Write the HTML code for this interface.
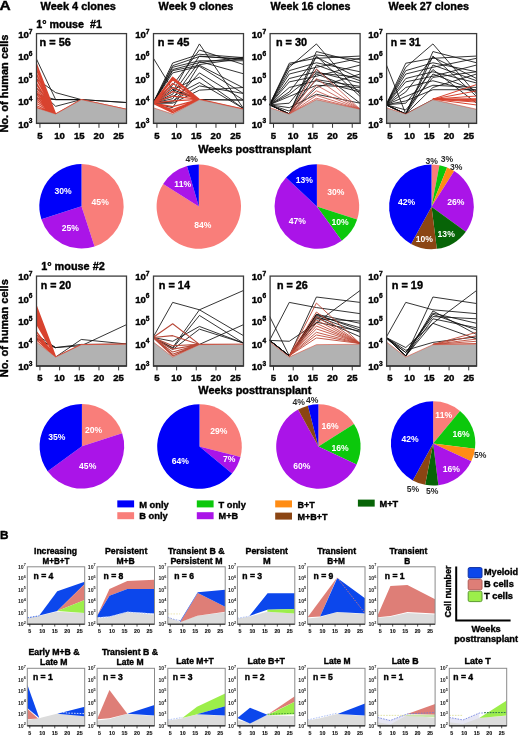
<!DOCTYPE html>
<html><head><meta charset="utf-8"><title>figure</title>
<style>html,body{margin:0;padding:0;background:#fff;}svg{display:block;filter:blur(0.4px);}</style>
</head><body>
<svg width="520" height="736" viewBox="0 0 520 736" font-family="'Liberation Sans', sans-serif" font-weight="bold">
<rect width="520" height="736" fill="#fff"/>
<text x="-0.6" y="9.5" font-size="13.2" textLength="11.2" lengthAdjust="spacingAndGlyphs" fill="#000" stroke="#000" stroke-width="0.38">A</text>
<text x="40.6" y="9.6" font-size="10.9" textLength="75.3" lengthAdjust="spacingAndGlyphs" fill="#000" stroke="#000" stroke-width="0.38">Week 4 clones</text>
<text x="158.6" y="9.6" font-size="10.9" textLength="74.8" lengthAdjust="spacingAndGlyphs" fill="#000" stroke="#000" stroke-width="0.38">Week 9 clones</text>
<text x="270.6" y="9.6" font-size="10.9" textLength="80" lengthAdjust="spacingAndGlyphs" fill="#000" stroke="#000" stroke-width="0.38">Week 16 clones</text>
<text x="388.6" y="9.6" font-size="10.9" textLength="80.4" lengthAdjust="spacingAndGlyphs" fill="#000" stroke="#000" stroke-width="0.38">Week 27 clones</text>
<text x="36.3" y="27.5" font-size="10.7" textLength="65.6" lengthAdjust="spacingAndGlyphs" fill="#000" stroke="#000" stroke-width="0.38">1° mouse  #1</text>
<text x="41.2" y="269.5" font-size="10.7" textLength="63.6" lengthAdjust="spacingAndGlyphs" fill="#000" stroke="#000" stroke-width="0.38">1° mouse #2</text>
<text transform="translate(8.2 83.6) rotate(-90)" font-size="10.9" stroke="#000" stroke-width="0.38" text-anchor="middle" textLength="98" lengthAdjust="spacingAndGlyphs">No. of human cells</text>
<clipPath id="ca00"><rect x="36" y="33.6" width="90.5" height="89.8"/></clipPath>
<g clip-path="url(#ca00)">
<path d="M36 58.07 L55.67 99.6 L81.25 99.6 L126.5 102.52M36 78.5 L55.67 92.64 L81.25 99.6 L126.5 102.52M36 87.48 L55.67 106.34 L81.25 99.6M36 94.22 L55.67 99.6 L81.25 99.6M36 98.71 L55.67 99.6 L81.25 99.6" fill="none" stroke="#111" stroke-width="0.85" stroke-linejoin="round"/>
<path d="M36 62.56 L55.67 113.97 L81.25 99.6 L126.5 109.26M36 63.91 L55.67 113.97 L81.25 99.6 L126.5 109.26M36 67.5 L55.67 113.97 L81.25 99.6 L126.5 109.26M36 68.85 L55.67 113.97 L81.25 99.6 L126.5 109.26M36 72.44 L55.67 113.97 L81.25 99.6 L126.5 109.26M36 73.79 L55.67 113.97 L81.25 99.6 L126.5 109.26M36 77.38 L55.67 113.97 L81.25 99.6 L126.5 109.26M36 78.72 L55.67 113.97 L81.25 99.6 L126.5 109.26M36 82.32 L55.67 113.97 L81.25 99.6 L126.5 109.26M36 83.66 L55.67 113.97 L81.25 99.6 L126.5 109.26M36 87.03 L55.67 113.97 L81.25 99.6 L126.5 109.26M36 89.73 L55.67 113.97 L81.25 99.6 L126.5 109.26M36 91.97 L55.67 113.97 L81.25 99.6 L126.5 109.26M36 94.22 L55.67 113.97 L81.25 99.6 L126.5 109.26M36 96.46 L55.67 113.97 L81.25 99.6 L126.5 109.26M36 98.71 L55.67 113.97 L81.25 99.6 L126.5 109.26M36 100.95 L55.67 113.97 L81.25 99.6 L126.5 109.26M36 103.2 L55.67 113.97 L81.25 99.6 L126.5 109.26M36 105.44 L55.67 113.97 L81.25 99.6 L126.5 109.26M36 107.24 L55.67 113.97 L81.25 99.6 L126.5 109.26" fill="none" stroke="#d8432f" stroke-width="1.1" stroke-linejoin="round"/>
<path d="M36 123.4 L36 107.69 L55.67 113.97 L81.25 99.6 L126.5 109.26 L126.5 123.4 Z" fill="#b2b2b2"/>
<path d="M36 107.69 L55.67 113.97 L81.25 99.6 L126.5 109.26" fill="none" stroke="#d8432f" stroke-width="0.7" opacity="0.8"/>
</g>
<rect x="36.5" y="33.6" width="90" height="89.8" fill="none" stroke="#3c3c3c" stroke-width="1.3"/>
<line x1="36" y1="123.4" x2="126.8" y2="123.4" stroke="#333" stroke-width="1.4"/>
<text x="39.6" y="46" font-size="10.6" textLength="31.2" lengthAdjust="spacingAndGlyphs" fill="#000" stroke="#000" stroke-width="0.38">n = 56</text>
<line x1="39.93" y1="123.4" x2="39.93" y2="127.8" stroke="#333" stroke-width="1"/>
<text x="39.93" y="138.8" font-size="9.6" text-anchor="middle" fill="#000" stroke="#000" stroke-width="0.38">5</text>
<line x1="59.61" y1="123.4" x2="59.61" y2="127.8" stroke="#333" stroke-width="1"/>
<text x="59.61" y="138.8" font-size="9.6" text-anchor="middle" fill="#000" stroke="#000" stroke-width="0.38">10</text>
<line x1="79.28" y1="123.4" x2="79.28" y2="127.8" stroke="#333" stroke-width="1"/>
<text x="79.28" y="138.8" font-size="9.6" text-anchor="middle" fill="#000" stroke="#000" stroke-width="0.38">15</text>
<line x1="98.96" y1="123.4" x2="98.96" y2="127.8" stroke="#333" stroke-width="1"/>
<text x="98.96" y="138.8" font-size="9.6" text-anchor="middle" fill="#000" stroke="#000" stroke-width="0.38">20</text>
<line x1="118.63" y1="123.4" x2="118.63" y2="127.8" stroke="#333" stroke-width="1"/>
<text x="118.63" y="138.8" font-size="9.6" text-anchor="middle" fill="#000" stroke="#000" stroke-width="0.38">25</text>
<text x="32.5" y="127.6" font-size="9.6" text-anchor="end" stroke="#000" stroke-width="0.38">10<tspan font-size="6.6" dy="-4.3">3</tspan></text>
<text x="32.5" y="105.15" font-size="9.6" text-anchor="end" stroke="#000" stroke-width="0.38">10<tspan font-size="6.6" dy="-4.3">4</tspan></text>
<text x="32.5" y="82.7" font-size="9.6" text-anchor="end" stroke="#000" stroke-width="0.38">10<tspan font-size="6.6" dy="-4.3">5</tspan></text>
<text x="32.5" y="60.25" font-size="9.6" text-anchor="end" stroke="#000" stroke-width="0.38">10<tspan font-size="6.6" dy="-4.3">6</tspan></text>
<text x="32.5" y="37.8" font-size="9.6" text-anchor="end" stroke="#000" stroke-width="0.38">10<tspan font-size="6.6" dy="-4.3">7</tspan></text>
<clipPath id="ca01"><rect x="153" y="33.6" width="90.5" height="89.8"/></clipPath>
<g clip-path="url(#ca01)">
<path d="M153 103.2 L172.67 63.01 L199.43 54.25 L243.5 57.62M153 103.2 L172.67 65.7 L199.43 56.5 L243.5 58.74M153 103.2 L172.67 67.28 L199.43 60.76 L243.5 60.76M153 103.2 L172.67 69.52 L199.43 62.56 L243.5 57.17M153 103.2 L172.67 70.64 L199.43 65.25 L243.5 87.93M153 103.2 L172.67 72.89 L199.43 66.38 L243.5 93.54M153 103.2 L172.67 91.97 L199.43 43.93 L243.5 108.58M153 103.2 L172.67 85.24 L199.43 49.99 L243.5 64.58M153 103.2 L172.67 94.22 L199.43 56.05 L243.5 59.64M153 103.2 L172.67 98.71 L199.43 61.44 L243.5 73.79M153 103.2 L172.67 102.07 L199.43 72.89 L243.5 100.05M153 103.2 L172.67 89.73 L199.43 77.15 L243.5 108.58M153 103.2 L172.67 96.46 L199.43 82.54 L243.5 108.58M153 103.2 L172.67 103.2 L199.43 90.17 L243.5 87.48M153 103.2 L172.67 100.95 L199.43 85.91 L243.5 93.54M153 103.2 L172.67 107.69 L199.43 64.58 L243.5 58.3M153 57.62 L172.67 89.73 L199.43 99.6 L243.5 100.05M153 103.2 L172.67 87.48 L199.43 99.6 L243.5 100.05" fill="none" stroke="#111" stroke-width="0.85" stroke-linejoin="round"/>
<path d="M153 103.2 L172.67 77.15 L199.43 99.38 L243.5 109.03M153 103.2 L172.67 78.5 L199.43 99.38 L243.5 109.03M153 103.2 L172.67 79.85 L199.43 99.38 L243.5 109.03M153 103.2 L172.67 83.44 L199.43 99.38 L243.5 109.03M153 103.2 L172.67 87.48 L199.43 99.38 L243.5 109.03M153 103.2 L172.67 91.52 L199.43 99.38 L243.5 109.03M153 103.2 L172.67 96.01 L199.43 99.38 L243.5 109.03M153 103.2 L172.67 100.95 L199.43 99.38 L243.5 109.03M153 103.2 L172.67 106.56 L199.43 99.38 L243.5 109.03M153 103.2 L172.67 109.48 L199.43 99.38 L243.5 109.03M153 103.2 L172.67 111.05 L199.43 99.38 L243.5 109.03M153 103.2 L172.67 112.62 L199.43 99.38 L243.5 109.03" fill="none" stroke="#d8432f" stroke-width="1.25" stroke-linejoin="round"/>
<path d="M153 123.4 L153 107.69 L172.67 113.97 L199.43 99.6 L243.5 109.26 L243.5 123.4 Z" fill="#b2b2b2"/>
<path d="M153 107.69 L172.67 113.97 L199.43 99.6 L243.5 109.26" fill="none" stroke="#d8432f" stroke-width="0.7" opacity="0.8"/>
</g>
<rect x="153.5" y="33.6" width="90" height="89.8" fill="none" stroke="#3c3c3c" stroke-width="1.3"/>
<line x1="153" y1="123.4" x2="243.8" y2="123.4" stroke="#333" stroke-width="1.4"/>
<text x="157.8" y="46" font-size="10.6" textLength="31.5" lengthAdjust="spacingAndGlyphs" fill="#000" stroke="#000" stroke-width="0.38">n = 45</text>
<line x1="156.93" y1="123.4" x2="156.93" y2="127.8" stroke="#333" stroke-width="1"/>
<text x="156.93" y="138.8" font-size="9.6" text-anchor="middle" fill="#000" stroke="#000" stroke-width="0.38">5</text>
<line x1="176.61" y1="123.4" x2="176.61" y2="127.8" stroke="#333" stroke-width="1"/>
<text x="176.61" y="138.8" font-size="9.6" text-anchor="middle" fill="#000" stroke="#000" stroke-width="0.38">10</text>
<line x1="196.28" y1="123.4" x2="196.28" y2="127.8" stroke="#333" stroke-width="1"/>
<text x="196.28" y="138.8" font-size="9.6" text-anchor="middle" fill="#000" stroke="#000" stroke-width="0.38">15</text>
<line x1="215.96" y1="123.4" x2="215.96" y2="127.8" stroke="#333" stroke-width="1"/>
<text x="215.96" y="138.8" font-size="9.6" text-anchor="middle" fill="#000" stroke="#000" stroke-width="0.38">20</text>
<line x1="235.63" y1="123.4" x2="235.63" y2="127.8" stroke="#333" stroke-width="1"/>
<text x="235.63" y="138.8" font-size="9.6" text-anchor="middle" fill="#000" stroke="#000" stroke-width="0.38">25</text>
<text x="149.5" y="127.6" font-size="9.6" text-anchor="end" stroke="#000" stroke-width="0.38">10<tspan font-size="6.6" dy="-4.3">3</tspan></text>
<text x="149.5" y="105.15" font-size="9.6" text-anchor="end" stroke="#000" stroke-width="0.38">10<tspan font-size="6.6" dy="-4.3">4</tspan></text>
<text x="149.5" y="82.7" font-size="9.6" text-anchor="end" stroke="#000" stroke-width="0.38">10<tspan font-size="6.6" dy="-4.3">5</tspan></text>
<text x="149.5" y="60.25" font-size="9.6" text-anchor="end" stroke="#000" stroke-width="0.38">10<tspan font-size="6.6" dy="-4.3">6</tspan></text>
<text x="149.5" y="37.8" font-size="9.6" text-anchor="end" stroke="#000" stroke-width="0.38">10<tspan font-size="6.6" dy="-4.3">7</tspan></text>
<clipPath id="ca02"><rect x="269.6" y="33.6" width="90.5" height="89.8"/></clipPath>
<g clip-path="url(#ca02)">
<path d="M269.6 104.77 L289.27 63.23 L316.42 58.3 L360.1 56.05M269.6 104.77 L289.27 67.28 L316.42 43.93 L360.1 94.22M269.6 104.77 L289.27 70.64 L316.42 62.78 L360.1 71.77M269.6 104.77 L289.27 74.01 L316.42 67.28 L360.1 58.3M269.6 104.77 L289.27 78.5 L316.42 71.77 L360.1 82.99M269.6 104.77 L289.27 81.87 L316.42 76.26 L360.1 65.03M269.6 104.77 L289.27 87.48 L316.42 80.75 L360.1 91.97M269.6 104.77 L289.27 91.97 L316.42 57.17 L360.1 78.5M269.6 104.77 L289.27 96.46 L316.42 85.24 L360.1 87.48M269.6 104.77 L289.27 103.2 L316.42 69.52 L360.1 103.2M269.6 104.77 L289.27 113.97 L316.42 51.56 L360.1 62.78M269.6 104.77 L289.27 113.97 L316.42 56.05 L360.1 96.46M269.6 104.77 L289.27 113.97 L316.42 65.03 L360.1 80.75M269.6 104.77 L289.27 113.97 L316.42 74.01 L360.1 90.85M269.6 104.77 L289.27 113.97 L316.42 87.48 L360.1 74.01M269.6 104.77 L289.27 107.69 L316.42 94.22 L360.1 103.2M269.6 104.77 L289.27 65.03 L316.42 54.93 L360.1 59.42M269.6 104.77 L289.27 94.22 L316.42 72.89 L360.1 77.38M269.6 104.77 L289.27 111.05 L316.42 79.62 L360.1 86.36" fill="none" stroke="#111" stroke-width="0.85" stroke-linejoin="round"/>
<path d="M289.27 113.97 L316.42 68.85 L360.1 109.26M289.27 113.97 L316.42 78.5 L360.1 109.26M289.27 113.97 L316.42 85.24 L360.1 109.26M289.27 113.97 L316.42 90.85 L360.1 109.26M289.27 113.97 L316.42 95.34 L360.1 109.26M289.27 113.97 L316.42 98.26 L360.1 109.26" fill="none" stroke="#c85a50" stroke-width="0.85" stroke-linejoin="round"/>
<path d="M269.6 123.4 L269.6 107.69 L289.27 113.97 L316.42 99.6 L360.1 109.26 L360.1 123.4 Z" fill="#b2b2b2"/>
<path d="M269.6 107.69 L289.27 113.97 L316.42 99.6 L360.1 109.26" fill="none" stroke="#d8432f" stroke-width="0.7" opacity="0.8"/>
</g>
<rect x="270.1" y="33.6" width="90" height="89.8" fill="none" stroke="#3c3c3c" stroke-width="1.3"/>
<line x1="269.6" y1="123.4" x2="360.4" y2="123.4" stroke="#333" stroke-width="1.4"/>
<text x="276" y="46" font-size="10.6" textLength="31" lengthAdjust="spacingAndGlyphs" fill="#000" stroke="#000" stroke-width="0.38">n = 30</text>
<line x1="273.53" y1="123.4" x2="273.53" y2="127.8" stroke="#333" stroke-width="1"/>
<text x="273.53" y="138.8" font-size="9.6" text-anchor="middle" fill="#000" stroke="#000" stroke-width="0.38">5</text>
<line x1="293.21" y1="123.4" x2="293.21" y2="127.8" stroke="#333" stroke-width="1"/>
<text x="293.21" y="138.8" font-size="9.6" text-anchor="middle" fill="#000" stroke="#000" stroke-width="0.38">10</text>
<line x1="312.88" y1="123.4" x2="312.88" y2="127.8" stroke="#333" stroke-width="1"/>
<text x="312.88" y="138.8" font-size="9.6" text-anchor="middle" fill="#000" stroke="#000" stroke-width="0.38">15</text>
<line x1="332.56" y1="123.4" x2="332.56" y2="127.8" stroke="#333" stroke-width="1"/>
<text x="332.56" y="138.8" font-size="9.6" text-anchor="middle" fill="#000" stroke="#000" stroke-width="0.38">20</text>
<line x1="352.23" y1="123.4" x2="352.23" y2="127.8" stroke="#333" stroke-width="1"/>
<text x="352.23" y="138.8" font-size="9.6" text-anchor="middle" fill="#000" stroke="#000" stroke-width="0.38">25</text>
<text x="266.1" y="127.6" font-size="9.6" text-anchor="end" stroke="#000" stroke-width="0.38">10<tspan font-size="6.6" dy="-4.3">3</tspan></text>
<text x="266.1" y="105.15" font-size="9.6" text-anchor="end" stroke="#000" stroke-width="0.38">10<tspan font-size="6.6" dy="-4.3">4</tspan></text>
<text x="266.1" y="82.7" font-size="9.6" text-anchor="end" stroke="#000" stroke-width="0.38">10<tspan font-size="6.6" dy="-4.3">5</tspan></text>
<text x="266.1" y="60.25" font-size="9.6" text-anchor="end" stroke="#000" stroke-width="0.38">10<tspan font-size="6.6" dy="-4.3">6</tspan></text>
<text x="266.1" y="37.8" font-size="9.6" text-anchor="end" stroke="#000" stroke-width="0.38">10<tspan font-size="6.6" dy="-4.3">7</tspan></text>
<clipPath id="ca03"><rect x="386.1" y="33.6" width="90.5" height="89.8"/></clipPath>
<g clip-path="url(#ca03)">
<path d="M386.1 64.13 L405.77 113.97 L432.92 99.6M386.1 104.77 L405.77 63.23 L432.92 58.3 L476.6 56.05M386.1 104.77 L405.77 67.28 L432.92 43.93 L476.6 94.22M386.1 104.77 L405.77 70.64 L432.92 62.78 L476.6 71.77M386.1 104.77 L405.77 74.01 L432.92 67.28 L476.6 58.3M386.1 104.77 L405.77 78.5 L432.92 71.77 L476.6 82.99M386.1 104.77 L405.77 81.87 L432.92 76.26 L476.6 65.03M386.1 104.77 L405.77 87.48 L432.92 80.75 L476.6 91.97M386.1 104.77 L405.77 91.97 L432.92 57.17 L476.6 78.5M386.1 104.77 L405.77 96.46 L432.92 85.24 L476.6 87.48M386.1 104.77 L405.77 103.2 L432.92 69.52 L476.6 103.2M386.1 104.77 L405.77 113.97 L432.92 51.56 L476.6 62.78M386.1 104.77 L405.77 113.97 L432.92 56.05 L476.6 96.46M386.1 104.77 L405.77 113.97 L432.92 65.03 L476.6 80.75M386.1 104.77 L405.77 113.97 L432.92 74.01 L476.6 90.85M386.1 104.77 L405.77 113.97 L432.92 87.48 L476.6 74.01M386.1 104.77 L405.77 100.95 L432.92 89.73 L476.6 89.73M386.1 104.77 L405.77 109.93 L432.92 77.38 L476.6 71.77" fill="none" stroke="#111" stroke-width="0.85" stroke-linejoin="round"/>
<path d="M432.92 99.15 L476.6 84.56M432.92 99.15 L476.6 90.85M432.92 99.15 L476.6 96.01M432.92 99.15 L476.6 98.71M432.92 99.15 L476.6 99.6M432.92 99.15 L476.6 100.28M432.92 99.15 L476.6 100.95M432.92 99.15 L476.6 102.07M432.92 99.15 L476.6 104.99" fill="none" stroke="#d8432f" stroke-width="1.0" stroke-linejoin="round"/>
<path d="M386.1 123.4 L386.1 107.69 L405.77 113.97 L432.92 99.6 L476.6 109.26 L476.6 123.4 Z" fill="#b2b2b2"/>
<path d="M386.1 107.69 L405.77 113.97 L432.92 99.6 L476.6 109.26" fill="none" stroke="#d8432f" stroke-width="0.7" opacity="0.8"/>
</g>
<rect x="386.6" y="33.6" width="90" height="89.8" fill="none" stroke="#3c3c3c" stroke-width="1.3"/>
<line x1="386.1" y1="123.4" x2="476.9" y2="123.4" stroke="#333" stroke-width="1.4"/>
<text x="390.8" y="46" font-size="10.6" textLength="29.8" lengthAdjust="spacingAndGlyphs" fill="#000" stroke="#000" stroke-width="0.38">n = 31</text>
<line x1="390.03" y1="123.4" x2="390.03" y2="127.8" stroke="#333" stroke-width="1"/>
<text x="390.03" y="138.8" font-size="9.6" text-anchor="middle" fill="#000" stroke="#000" stroke-width="0.38">5</text>
<line x1="409.71" y1="123.4" x2="409.71" y2="127.8" stroke="#333" stroke-width="1"/>
<text x="409.71" y="138.8" font-size="9.6" text-anchor="middle" fill="#000" stroke="#000" stroke-width="0.38">10</text>
<line x1="429.38" y1="123.4" x2="429.38" y2="127.8" stroke="#333" stroke-width="1"/>
<text x="429.38" y="138.8" font-size="9.6" text-anchor="middle" fill="#000" stroke="#000" stroke-width="0.38">15</text>
<line x1="449.06" y1="123.4" x2="449.06" y2="127.8" stroke="#333" stroke-width="1"/>
<text x="449.06" y="138.8" font-size="9.6" text-anchor="middle" fill="#000" stroke="#000" stroke-width="0.38">20</text>
<line x1="468.73" y1="123.4" x2="468.73" y2="127.8" stroke="#333" stroke-width="1"/>
<text x="468.73" y="138.8" font-size="9.6" text-anchor="middle" fill="#000" stroke="#000" stroke-width="0.38">25</text>
<text x="382.6" y="127.6" font-size="9.6" text-anchor="end" stroke="#000" stroke-width="0.38">10<tspan font-size="6.6" dy="-4.3">3</tspan></text>
<text x="382.6" y="105.15" font-size="9.6" text-anchor="end" stroke="#000" stroke-width="0.38">10<tspan font-size="6.6" dy="-4.3">4</tspan></text>
<text x="382.6" y="82.7" font-size="9.6" text-anchor="end" stroke="#000" stroke-width="0.38">10<tspan font-size="6.6" dy="-4.3">5</tspan></text>
<text x="382.6" y="60.25" font-size="9.6" text-anchor="end" stroke="#000" stroke-width="0.38">10<tspan font-size="6.6" dy="-4.3">6</tspan></text>
<text x="382.6" y="37.8" font-size="9.6" text-anchor="end" stroke="#000" stroke-width="0.38">10<tspan font-size="6.6" dy="-4.3">7</tspan></text>
<text x="198.2" y="152.9" font-size="10.8" textLength="113" lengthAdjust="spacingAndGlyphs" fill="#000" stroke="#000" stroke-width="0.38">Weeks posttransplant</text>
<text transform="translate(8.2 328.2) rotate(-90)" font-size="10.9" stroke="#000" stroke-width="0.38" text-anchor="middle" textLength="98" lengthAdjust="spacingAndGlyphs">No. of human cells</text>
<clipPath id="ca10"><rect x="36" y="276.1" width="90.5" height="89.9"/></clipPath>
<g clip-path="url(#ca10)">
<path d="M36 339.03 L55.67 347.57 L81.25 345.77 L126.5 324.65M36 336.78 L55.67 357.01 L81.25 339.48 L126.5 343.97M36 334.53 L55.67 347.57 L81.25 344.42 L126.5 344.2M36 337.91 L55.67 348.02" fill="none" stroke="#111" stroke-width="0.85" stroke-linejoin="round"/>
<path d="M36 304.87 L55.67 357.01 L81.25 344.65 L126.5 344.2M36 307.12 L55.67 357.01 L81.25 344.65 L126.5 344.2M36 309.36 L55.67 357.01 L81.25 344.65 L126.5 344.2M36 311.61 L55.67 357.01 L81.25 344.65 L126.5 344.2M36 313.86 L55.67 357.01 L81.25 344.65 L126.5 344.2M36 316.11 L55.67 357.01 L81.25 344.65 L126.5 344.2M36 318.35 L55.67 357.01 L81.25 344.65 L126.5 344.2M36 320.6 L55.67 357.01 L81.25 344.65 L126.5 344.2M36 322.85 L55.67 357.01 L81.25 344.65 L126.5 344.2M36 331.16 L55.67 357.01 L81.25 344.65 L126.5 344.2M36 334.09 L55.67 357.01 L81.25 344.65 L126.5 344.2M36 336.78 L55.67 357.01 L81.25 344.65 L126.5 344.2M36 339.48 L55.67 357.01 L81.25 344.65 L126.5 344.2" fill="none" stroke="#d8432f" stroke-width="1.3" stroke-linejoin="round"/>
<path d="M36 366 L36 341.73 L55.67 357.01 L81.25 344.65 L126.5 344.2 L126.5 366 Z" fill="#b2b2b2"/>
<path d="M36 341.73 L55.67 357.01 L81.25 344.65 L126.5 344.2" fill="none" stroke="#d8432f" stroke-width="0.7" opacity="0.8"/>
</g>
<rect x="36.5" y="276.1" width="90" height="89.9" fill="none" stroke="#3c3c3c" stroke-width="1.3"/>
<line x1="36" y1="366" x2="126.8" y2="366" stroke="#333" stroke-width="1.4"/>
<text x="40.8" y="288.5" font-size="10.6" textLength="30.3" lengthAdjust="spacingAndGlyphs" fill="#000" stroke="#000" stroke-width="0.38">n = 20</text>
<line x1="39.93" y1="366" x2="39.93" y2="370.4" stroke="#333" stroke-width="1"/>
<text x="39.93" y="380.8" font-size="9.6" text-anchor="middle" fill="#000" stroke="#000" stroke-width="0.38">5</text>
<line x1="59.61" y1="366" x2="59.61" y2="370.4" stroke="#333" stroke-width="1"/>
<text x="59.61" y="380.8" font-size="9.6" text-anchor="middle" fill="#000" stroke="#000" stroke-width="0.38">10</text>
<line x1="79.28" y1="366" x2="79.28" y2="370.4" stroke="#333" stroke-width="1"/>
<text x="79.28" y="380.8" font-size="9.6" text-anchor="middle" fill="#000" stroke="#000" stroke-width="0.38">15</text>
<line x1="98.96" y1="366" x2="98.96" y2="370.4" stroke="#333" stroke-width="1"/>
<text x="98.96" y="380.8" font-size="9.6" text-anchor="middle" fill="#000" stroke="#000" stroke-width="0.38">20</text>
<line x1="118.63" y1="366" x2="118.63" y2="370.4" stroke="#333" stroke-width="1"/>
<text x="118.63" y="380.8" font-size="9.6" text-anchor="middle" fill="#000" stroke="#000" stroke-width="0.38">25</text>
<text x="32.5" y="370.2" font-size="9.6" text-anchor="end" stroke="#000" stroke-width="0.38">10<tspan font-size="6.6" dy="-4.3">3</tspan></text>
<text x="32.5" y="347.72" font-size="9.6" text-anchor="end" stroke="#000" stroke-width="0.38">10<tspan font-size="6.6" dy="-4.3">4</tspan></text>
<text x="32.5" y="325.25" font-size="9.6" text-anchor="end" stroke="#000" stroke-width="0.38">10<tspan font-size="6.6" dy="-4.3">5</tspan></text>
<text x="32.5" y="302.78" font-size="9.6" text-anchor="end" stroke="#000" stroke-width="0.38">10<tspan font-size="6.6" dy="-4.3">6</tspan></text>
<text x="32.5" y="280.3" font-size="9.6" text-anchor="end" stroke="#000" stroke-width="0.38">10<tspan font-size="6.6" dy="-4.3">7</tspan></text>
<clipPath id="ca11"><rect x="153" y="276.1" width="90.5" height="89.9"/></clipPath>
<g clip-path="url(#ca11)">
<path d="M153 337.46 L172.67 302.4 L199.43 309.81 L243.5 335.66M153 337.46 L172.67 347.57 L199.43 309.81 L243.5 290.48M153 337.46 L172.67 348.47 L199.43 315.43 L243.5 343.08M153 337.46 L172.67 341.28 L199.43 326.44 L243.5 343.08M153 337.46 L172.67 349.59 L199.43 329.14 L243.5 343.08M199.43 344.42 L243.5 324.65" fill="none" stroke="#111" stroke-width="0.85" stroke-linejoin="round"/>
<path d="M153 337.46 L172.67 323.75 L199.43 344.42 L243.5 344.2M153 337.46 L172.67 335.66 L199.43 344.42 L243.5 344.2M153 337.46 L172.67 345.77 L199.43 344.42 L243.5 344.2M153 337.46 L172.67 349.14 L199.43 344.42 L243.5 344.2M153 337.46 L172.67 352.07 L199.43 344.42 L243.5 344.2M153 337.46 L172.67 354.31 L199.43 344.42 L243.5 344.2M153 337.46 L172.67 355.89 L199.43 344.42 L243.5 344.2" fill="none" stroke="#b84a3a" stroke-width="1.1" stroke-linejoin="round"/>
<path d="M153 366 L153 341.73 L172.67 357.01 L199.43 344.65 L243.5 344.2 L243.5 366 Z" fill="#b2b2b2"/>
<path d="M153 341.73 L172.67 357.01 L199.43 344.65 L243.5 344.2" fill="none" stroke="#d8432f" stroke-width="0.7" opacity="0.8"/>
</g>
<rect x="153.5" y="276.1" width="90" height="89.9" fill="none" stroke="#3c3c3c" stroke-width="1.3"/>
<line x1="153" y1="366" x2="243.8" y2="366" stroke="#333" stroke-width="1.4"/>
<text x="158.8" y="288.5" font-size="10.6" textLength="31.2" lengthAdjust="spacingAndGlyphs" fill="#000" stroke="#000" stroke-width="0.38">n = 14</text>
<line x1="156.93" y1="366" x2="156.93" y2="370.4" stroke="#333" stroke-width="1"/>
<text x="156.93" y="380.8" font-size="9.6" text-anchor="middle" fill="#000" stroke="#000" stroke-width="0.38">5</text>
<line x1="176.61" y1="366" x2="176.61" y2="370.4" stroke="#333" stroke-width="1"/>
<text x="176.61" y="380.8" font-size="9.6" text-anchor="middle" fill="#000" stroke="#000" stroke-width="0.38">10</text>
<line x1="196.28" y1="366" x2="196.28" y2="370.4" stroke="#333" stroke-width="1"/>
<text x="196.28" y="380.8" font-size="9.6" text-anchor="middle" fill="#000" stroke="#000" stroke-width="0.38">15</text>
<line x1="215.96" y1="366" x2="215.96" y2="370.4" stroke="#333" stroke-width="1"/>
<text x="215.96" y="380.8" font-size="9.6" text-anchor="middle" fill="#000" stroke="#000" stroke-width="0.38">20</text>
<line x1="235.63" y1="366" x2="235.63" y2="370.4" stroke="#333" stroke-width="1"/>
<text x="235.63" y="380.8" font-size="9.6" text-anchor="middle" fill="#000" stroke="#000" stroke-width="0.38">25</text>
<text x="149.5" y="370.2" font-size="9.6" text-anchor="end" stroke="#000" stroke-width="0.38">10<tspan font-size="6.6" dy="-4.3">3</tspan></text>
<text x="149.5" y="347.72" font-size="9.6" text-anchor="end" stroke="#000" stroke-width="0.38">10<tspan font-size="6.6" dy="-4.3">4</tspan></text>
<text x="149.5" y="325.25" font-size="9.6" text-anchor="end" stroke="#000" stroke-width="0.38">10<tspan font-size="6.6" dy="-4.3">5</tspan></text>
<text x="149.5" y="302.78" font-size="9.6" text-anchor="end" stroke="#000" stroke-width="0.38">10<tspan font-size="6.6" dy="-4.3">6</tspan></text>
<text x="149.5" y="280.3" font-size="9.6" text-anchor="end" stroke="#000" stroke-width="0.38">10<tspan font-size="6.6" dy="-4.3">7</tspan></text>
<clipPath id="ca12"><rect x="269.6" y="276.1" width="90.5" height="89.9"/></clipPath>
<g clip-path="url(#ca12)">
<path d="M269.6 316.33 L289.27 355.89 L316.42 314.31 L360.1 330.04M269.6 340.38 L289.27 302.4 L316.42 307.56 L360.1 313.63M269.6 340.38 L289.27 341.28 L316.42 322.85 L360.1 290.48M269.6 340.38 L289.27 355.89 L316.42 297 L360.1 302.4M269.6 340.38 L289.27 355.89 L316.42 314.31 L360.1 323.3M269.6 340.38 L289.27 355.89 L316.42 316.56 L360.1 332.29M269.6 340.38 L289.27 355.89 L316.42 318.8 L360.1 321.05M269.6 340.38 L289.27 355.89 L316.42 317.68 L360.1 336.78M269.6 340.38 L289.27 355.89 L316.42 315.43 L360.1 327.79M269.6 340.38 L289.27 355.89 L316.42 322.17 L360.1 331.16" fill="none" stroke="#111" stroke-width="0.85" stroke-linejoin="round"/>
<path d="M289.27 355.89 L316.42 303.07 L360.1 343.52M289.27 355.89 L316.42 312.06 L360.1 343.52M289.27 355.89 L316.42 316.56 L360.1 343.52M289.27 355.89 L316.42 319.93 L360.1 343.52M289.27 355.89 L316.42 323.3 L360.1 343.52M289.27 355.89 L316.42 325.99 L360.1 343.52M289.27 355.89 L316.42 328.92 L360.1 343.52M289.27 355.89 L316.42 332.29 L360.1 343.52M289.27 355.89 L316.42 334.98 L360.1 343.52M289.27 355.89 L316.42 337.91 L360.1 343.52" fill="none" stroke="#c04a38" stroke-width="0.9" stroke-linejoin="round"/>
<path d="M269.6 366 L269.6 341.73 L289.27 357.01 L316.42 344.65 L360.1 344.2 L360.1 366 Z" fill="#b2b2b2"/>
<path d="M269.6 341.73 L289.27 357.01 L316.42 344.65 L360.1 344.2" fill="none" stroke="#d8432f" stroke-width="0.7" opacity="0.8"/>
</g>
<rect x="270.1" y="276.1" width="90" height="89.9" fill="none" stroke="#3c3c3c" stroke-width="1.3"/>
<line x1="269.6" y1="366" x2="360.4" y2="366" stroke="#333" stroke-width="1.4"/>
<text x="277" y="288.5" font-size="10.6" textLength="30.7" lengthAdjust="spacingAndGlyphs" fill="#000" stroke="#000" stroke-width="0.38">n = 26</text>
<line x1="273.53" y1="366" x2="273.53" y2="370.4" stroke="#333" stroke-width="1"/>
<text x="273.53" y="380.8" font-size="9.6" text-anchor="middle" fill="#000" stroke="#000" stroke-width="0.38">5</text>
<line x1="293.21" y1="366" x2="293.21" y2="370.4" stroke="#333" stroke-width="1"/>
<text x="293.21" y="380.8" font-size="9.6" text-anchor="middle" fill="#000" stroke="#000" stroke-width="0.38">10</text>
<line x1="312.88" y1="366" x2="312.88" y2="370.4" stroke="#333" stroke-width="1"/>
<text x="312.88" y="380.8" font-size="9.6" text-anchor="middle" fill="#000" stroke="#000" stroke-width="0.38">15</text>
<line x1="332.56" y1="366" x2="332.56" y2="370.4" stroke="#333" stroke-width="1"/>
<text x="332.56" y="380.8" font-size="9.6" text-anchor="middle" fill="#000" stroke="#000" stroke-width="0.38">20</text>
<line x1="352.23" y1="366" x2="352.23" y2="370.4" stroke="#333" stroke-width="1"/>
<text x="352.23" y="380.8" font-size="9.6" text-anchor="middle" fill="#000" stroke="#000" stroke-width="0.38">25</text>
<text x="266.1" y="370.2" font-size="9.6" text-anchor="end" stroke="#000" stroke-width="0.38">10<tspan font-size="6.6" dy="-4.3">3</tspan></text>
<text x="266.1" y="347.72" font-size="9.6" text-anchor="end" stroke="#000" stroke-width="0.38">10<tspan font-size="6.6" dy="-4.3">4</tspan></text>
<text x="266.1" y="325.25" font-size="9.6" text-anchor="end" stroke="#000" stroke-width="0.38">10<tspan font-size="6.6" dy="-4.3">5</tspan></text>
<text x="266.1" y="302.78" font-size="9.6" text-anchor="end" stroke="#000" stroke-width="0.38">10<tspan font-size="6.6" dy="-4.3">6</tspan></text>
<text x="266.1" y="280.3" font-size="9.6" text-anchor="end" stroke="#000" stroke-width="0.38">10<tspan font-size="6.6" dy="-4.3">7</tspan></text>
<clipPath id="ca13"><rect x="386.1" y="276.1" width="90.5" height="89.9"/></clipPath>
<g clip-path="url(#ca13)">
<path d="M386.1 337.46 L405.77 302.4 L432.92 309.81 L476.6 313.63M386.1 337.46 L405.77 347.57 L432.92 323.3 L476.6 290.48M386.1 337.46 L405.77 355.89 L432.92 297 L476.6 303.52M386.1 337.46 L405.77 352.51 L432.92 314.31 L476.6 330.04M386.1 337.46 L405.77 352.51 L432.92 316.56 L476.6 318.8M386.1 337.46 L405.77 355.89 L432.92 318.8 L476.6 327.79M386.1 337.46 L405.77 355.89 L432.92 323.3 L476.6 339.03M386.1 337.46 L405.77 355.89 L432.92 310.94 L476.6 334.53M386.1 337.46 L405.77 355.89 L432.92 313.18 L476.6 323.3M386.1 337.46 L405.77 350.27 L432.92 342.4 L476.6 336.78" fill="none" stroke="#111" stroke-width="0.85" stroke-linejoin="round"/>
<path d="M432.92 344.42 L476.6 332.29M432.92 344.42 L476.6 335.66M432.92 344.42 L476.6 339.03M432.92 344.42 L476.6 341.28M432.92 344.42 L476.6 343.52" fill="none" stroke="#c04a38" stroke-width="0.9" stroke-linejoin="round"/>
<path d="M386.1 366 L386.1 341.73 L405.77 357.01 L432.92 344.65 L476.6 344.2 L476.6 366 Z" fill="#b2b2b2"/>
<path d="M386.1 341.73 L405.77 357.01 L432.92 344.65 L476.6 344.2" fill="none" stroke="#d8432f" stroke-width="0.7" opacity="0.8"/>
</g>
<rect x="386.6" y="276.1" width="90" height="89.9" fill="none" stroke="#3c3c3c" stroke-width="1.3"/>
<line x1="386.1" y1="366" x2="476.9" y2="366" stroke="#333" stroke-width="1.4"/>
<text x="391.8" y="288.5" font-size="10.6" textLength="31.2" lengthAdjust="spacingAndGlyphs" fill="#000" stroke="#000" stroke-width="0.38">n = 19</text>
<line x1="390.03" y1="366" x2="390.03" y2="370.4" stroke="#333" stroke-width="1"/>
<text x="390.03" y="380.8" font-size="9.6" text-anchor="middle" fill="#000" stroke="#000" stroke-width="0.38">5</text>
<line x1="409.71" y1="366" x2="409.71" y2="370.4" stroke="#333" stroke-width="1"/>
<text x="409.71" y="380.8" font-size="9.6" text-anchor="middle" fill="#000" stroke="#000" stroke-width="0.38">10</text>
<line x1="429.38" y1="366" x2="429.38" y2="370.4" stroke="#333" stroke-width="1"/>
<text x="429.38" y="380.8" font-size="9.6" text-anchor="middle" fill="#000" stroke="#000" stroke-width="0.38">15</text>
<line x1="449.06" y1="366" x2="449.06" y2="370.4" stroke="#333" stroke-width="1"/>
<text x="449.06" y="380.8" font-size="9.6" text-anchor="middle" fill="#000" stroke="#000" stroke-width="0.38">20</text>
<line x1="468.73" y1="366" x2="468.73" y2="370.4" stroke="#333" stroke-width="1"/>
<text x="468.73" y="380.8" font-size="9.6" text-anchor="middle" fill="#000" stroke="#000" stroke-width="0.38">25</text>
<text x="382.6" y="370.2" font-size="9.6" text-anchor="end" stroke="#000" stroke-width="0.38">10<tspan font-size="6.6" dy="-4.3">3</tspan></text>
<text x="382.6" y="347.72" font-size="9.6" text-anchor="end" stroke="#000" stroke-width="0.38">10<tspan font-size="6.6" dy="-4.3">4</tspan></text>
<text x="382.6" y="325.25" font-size="9.6" text-anchor="end" stroke="#000" stroke-width="0.38">10<tspan font-size="6.6" dy="-4.3">5</tspan></text>
<text x="382.6" y="302.78" font-size="9.6" text-anchor="end" stroke="#000" stroke-width="0.38">10<tspan font-size="6.6" dy="-4.3">6</tspan></text>
<text x="382.6" y="280.3" font-size="9.6" text-anchor="end" stroke="#000" stroke-width="0.38">10<tspan font-size="6.6" dy="-4.3">7</tspan></text>
<text x="198.3" y="393.5" font-size="10.8" textLength="113" lengthAdjust="spacingAndGlyphs" fill="#000" stroke="#000" stroke-width="0.38">Weeks posttransplant</text>
<path d="M81.5 206.3 L81.5 164.1 A42.2 42.2 0 0 1 94.54 246.43 Z" fill="#f97e7a"/>
<path d="M81.5 206.3 L94.54 246.43 A42.2 42.2 0 0 1 41.37 219.34 Z" fill="#aa14e8"/>
<path d="M81.5 206.3 L41.37 219.34 A42.2 42.2 0 0 1 81.5 164.1 Z" fill="#0000fa"/>
<text x="63" y="193.7" font-size="8.6" text-anchor="middle" fill="#fff">30%</text>
<text x="100.2" y="205" font-size="8.6" text-anchor="middle" fill="#fff">45%</text>
<text x="70.4" y="231" font-size="8.6" text-anchor="middle" fill="#fff">25%</text>
<path d="M198.8 206.6 L198.8 164.4 A42.2 42.2 0 1 1 163.17 183.99 Z" fill="#f97e7a"/>
<path d="M198.8 206.6 L163.17 183.99 A42.2 42.2 0 0 1 187.03 166.08 Z" fill="#aa14e8"/>
<path d="M198.8 206.6 L187.03 166.08 A42.2 42.2 0 0 1 198.8 164.4 Z" fill="#0000fa"/>
<text x="191.8" y="161.6" font-size="8.6" text-anchor="middle" fill="#2a2a2a">4%</text>
<text x="182.7" y="186.6" font-size="8.6" text-anchor="middle" fill="#fff">11%</text>
<text x="202.9" y="227.9" font-size="8.6" text-anchor="middle" fill="#fff">84%</text>
<path d="M316.9 206.5 L316.9 164.2 A42.3 42.3 0 0 1 357.13 219.57 Z" fill="#f97e7a"/>
<path d="M316.9 206.5 L357.13 219.57 A42.3 42.3 0 0 1 341.76 240.72 Z" fill="#0cc80c"/>
<path d="M316.9 206.5 L341.76 240.72 A42.3 42.3 0 0 1 286.06 177.54 Z" fill="#aa14e8"/>
<path d="M316.9 206.5 L286.06 177.54 A42.3 42.3 0 0 1 316.9 164.2 Z" fill="#0000fa"/>
<text x="304.4" y="182.7" font-size="8.6" text-anchor="middle" fill="#fff">13%</text>
<text x="335.8" y="194.8" font-size="8.6" text-anchor="middle" fill="#fff">30%</text>
<text x="340" y="225" font-size="8.6" text-anchor="middle" fill="#fff">10%</text>
<text x="297.3" y="224.1" font-size="8.6" text-anchor="middle" fill="#fff">47%</text>
<path d="M431.5 206.8 L431.5 164.4 A42.4 42.4 0 0 1 439.44 165.15 Z" fill="#f97e7a"/>
<path d="M431.5 206.8 L439.44 165.15 A42.4 42.4 0 0 1 447.11 167.38 Z" fill="#0cc80c"/>
<path d="M431.5 206.8 L447.11 167.38 A42.4 42.4 0 0 1 454.22 171 Z" fill="#ff8c14"/>
<path d="M431.5 206.8 L454.22 171 A42.4 42.4 0 0 1 465.8 231.72 Z" fill="#aa14e8"/>
<path d="M431.5 206.8 L465.8 231.72 A42.4 42.4 0 0 1 436.81 248.87 Z" fill="#076407"/>
<path d="M431.5 206.8 L436.81 248.87 A42.4 42.4 0 0 1 411.07 243.96 Z" fill="#8b4513"/>
<path d="M431.5 206.8 L411.07 243.96 A42.4 42.4 0 0 1 431.5 164.4 Z" fill="#0000fa"/>
<text x="431.6" y="163.5" font-size="8.6" text-anchor="middle" fill="#2a2a2a">3%</text>
<text x="447" y="161.7" font-size="8.6" text-anchor="middle" fill="#2a2a2a">3%</text>
<text x="456.2" y="170.2" font-size="8.6" text-anchor="middle" fill="#2a2a2a">3%</text>
<text x="406.5" y="204.8" font-size="8.6" text-anchor="middle" fill="#fff">42%</text>
<text x="455.8" y="205.4" font-size="8.6" text-anchor="middle" fill="#fff">26%</text>
<text x="446.2" y="236.6" font-size="8.6" text-anchor="middle" fill="#fff">13%</text>
<text x="424.4" y="241.9" font-size="8.6" text-anchor="middle" fill="#fff">10%</text>
<path d="M81.9 446.3 L81.9 404 A42.3 42.3 0 0 1 122.13 433.23 Z" fill="#f97e7a"/>
<path d="M81.9 446.3 L122.13 433.23 A42.3 42.3 0 0 1 47.68 471.16 Z" fill="#aa14e8"/>
<path d="M81.9 446.3 L47.68 471.16 A42.3 42.3 0 0 1 81.9 404 Z" fill="#0000fa"/>
<text x="93.5" y="432.7" font-size="8.6" text-anchor="middle" fill="#fff">20%</text>
<text x="56.9" y="440" font-size="8.6" text-anchor="middle" fill="#fff">35%</text>
<text x="87.7" y="468.9" font-size="8.6" text-anchor="middle" fill="#fff">45%</text>
<path d="M199.5 446.5 L199.5 404.2 A42.3 42.3 0 0 1 240.47 457.02 Z" fill="#f97e7a"/>
<path d="M199.5 446.5 L240.47 457.02 A42.3 42.3 0 0 1 232.09 473.46 Z" fill="#aa14e8"/>
<path d="M199.5 446.5 L232.09 473.46 A42.3 42.3 0 1 1 199.5 404.2 Z" fill="#0000fa"/>
<text x="218.8" y="434.3" font-size="8.6" text-anchor="middle" fill="#fff">29%</text>
<text x="229.2" y="461.8" font-size="8.6" text-anchor="middle" fill="#fff">7%</text>
<text x="180.4" y="464.1" font-size="8.6" text-anchor="middle" fill="#fff">64%</text>
<path d="M318.4 446.5 L318.4 404.3 A42.2 42.2 0 0 1 354.03 423.89 Z" fill="#f97e7a"/>
<path d="M318.4 446.5 L354.03 423.89 A42.2 42.2 0 0 1 356.58 464.47 Z" fill="#0cc80c"/>
<path d="M318.4 446.5 L356.58 464.47 A42.2 42.2 0 1 1 298.07 409.52 Z" fill="#aa14e8"/>
<path d="M318.4 446.5 L298.07 409.52 A42.2 42.2 0 0 1 307.91 405.63 Z" fill="#8b4513"/>
<path d="M318.4 446.5 L307.91 405.63 A42.2 42.2 0 0 1 318.4 404.3 Z" fill="#0000fa"/>
<text x="330" y="428.5" font-size="8.6" text-anchor="middle" fill="#fff">16%</text>
<text x="340" y="450.6" font-size="8.6" text-anchor="middle" fill="#fff">16%</text>
<text x="301.9" y="468.9" font-size="8.6" text-anchor="middle" fill="#fff">60%</text>
<text x="298.7" y="405" font-size="8.6" text-anchor="middle" fill="#2a2a2a">4%</text>
<text x="312.1" y="403.1" font-size="8.6" text-anchor="middle" fill="#2a2a2a">4%</text>
<path d="M433.1 443.4 L433.1 401.2 A42.2 42.2 0 0 1 460 410.88 Z" fill="#f97e7a"/>
<path d="M433.1 443.4 L460 410.88 A42.2 42.2 0 0 1 474.97 448.69 Z" fill="#0cc80c"/>
<path d="M433.1 443.4 L474.97 448.69 A42.2 42.2 0 0 1 471.28 461.37 Z" fill="#ff8c14"/>
<path d="M433.1 443.4 L471.28 461.37 A42.2 42.2 0 0 1 438.39 485.27 Z" fill="#aa14e8"/>
<path d="M433.1 443.4 L438.39 485.27 A42.2 42.2 0 0 1 425.19 484.85 Z" fill="#076407"/>
<path d="M433.1 443.4 L425.19 484.85 A42.2 42.2 0 0 1 412.77 480.38 Z" fill="#8b4513"/>
<path d="M433.1 443.4 L412.77 480.38 A42.2 42.2 0 0 1 433.1 401.2 Z" fill="#0000fa"/>
<text x="443.7" y="417.9" font-size="8.6" text-anchor="middle" fill="#fff">11%</text>
<text x="461" y="437.1" font-size="8.6" text-anchor="middle" fill="#fff">16%</text>
<text x="410" y="441.9" font-size="8.6" text-anchor="middle" fill="#fff">42%</text>
<text x="451.3" y="471.8" font-size="8.6" text-anchor="middle" fill="#fff">16%</text>
<text x="480.2" y="458.3" font-size="8.6" text-anchor="middle" fill="#2a2a2a">5%</text>
<text x="412.9" y="491.9" font-size="8.6" text-anchor="middle" fill="#2a2a2a">5%</text>
<text x="432.1" y="493.5" font-size="8.6" text-anchor="middle" fill="#2a2a2a">5%</text>
<rect x="117.3" y="500.4" width="16.8" height="7" fill="#0000fa"/>
<text x="139.2" y="507.5" font-size="9.4" textLength="29.5" lengthAdjust="spacingAndGlyphs" fill="#000" stroke="#000" stroke-width="0.38">M only</text>
<rect x="117.3" y="512.2" width="16.8" height="7" fill="#f97e7a"/>
<text x="139.2" y="519.3" font-size="9.4" textLength="28.5" lengthAdjust="spacingAndGlyphs" fill="#000" stroke="#000" stroke-width="0.38">B only</text>
<rect x="196.8" y="500.4" width="16.8" height="7" fill="#0cc80c"/>
<text x="218.5" y="507.5" font-size="9.4" textLength="27.3" lengthAdjust="spacingAndGlyphs" fill="#000" stroke="#000" stroke-width="0.38">T only</text>
<rect x="196.8" y="512.2" width="16.8" height="7" fill="#aa14e8"/>
<text x="218.5" y="519.3" font-size="9.4" textLength="19.6" lengthAdjust="spacingAndGlyphs" fill="#000" stroke="#000" stroke-width="0.38">M+B</text>
<rect x="275.2" y="500.4" width="16.8" height="7" fill="#ff8c14"/>
<text x="297.4" y="507.5" font-size="9.4" textLength="17.3" lengthAdjust="spacingAndGlyphs" fill="#000" stroke="#000" stroke-width="0.38">B+T</text>
<rect x="275.2" y="512.6" width="16.8" height="7" fill="#8b4513"/>
<text x="297.4" y="519.7" font-size="9.4" textLength="30.2" lengthAdjust="spacingAndGlyphs" fill="#000" stroke="#000" stroke-width="0.38">M+B+T</text>
<rect x="357.9" y="499.6" width="16.8" height="7" fill="#076407"/>
<text x="379.5" y="506.7" font-size="9.4" textLength="18.7" lengthAdjust="spacingAndGlyphs" fill="#000" stroke="#000" stroke-width="0.38">M+T</text>
<text x="0" y="539.4" font-size="11.8" fill="#000" stroke="#000" stroke-width="0.38">B</text>
<clipPath id="cb00"><rect x="27.3" y="566.8" width="57.4" height="57.2"/></clipPath>
<g clip-path="url(#cb00)">
<path d="M27.3 624 L27.3 617.82 L39.78 615.76 L56.75 611.64 L84.7 612.9 L84.7 624 Z" fill="#dcdcdc"/>
<path d="M39.28 615.42 L57.25 591.17 L84.7 581.79 L84.7 583.96 L57.25 611.07Z" fill="#0c47ec"/>
<path d="M57.25 611.07 L84.7 583.96 L84.7 599.98Z" fill="#de7e77"/>
<path d="M57.25 611.07 L84.7 599.98 L84.7 612.9Z" fill="#9cee4a"/>
<path d="M27.3 617.82 L39.28 615.76" fill="none" stroke="#0c47ec" stroke-width="0.8" stroke-dasharray="1.6 1.2"/>
</g>
<rect x="27.3" y="566.8" width="57.4" height="57.2" fill="none" stroke="#8a8a8a" stroke-width="1"/>
<line x1="27.3" y1="624.2" x2="84.7" y2="624.2" stroke="#222" stroke-width="1.1"/>
<text x="33.5" y="578.6" font-size="8.6" fill="#000" stroke="#000" stroke-width="0.38">n = 4</text>
<line x1="29.8" y1="624" x2="29.8" y2="626.6" stroke="#222" stroke-width="0.8"/>
<text x="29.8" y="633" font-size="5.3" text-anchor="middle" fill="#111" stroke="#111" stroke-width="0.12">5</text>
<line x1="42.27" y1="624" x2="42.27" y2="626.6" stroke="#222" stroke-width="0.8"/>
<text x="42.27" y="633" font-size="5.3" text-anchor="middle" fill="#111" stroke="#111" stroke-width="0.12">10</text>
<line x1="54.75" y1="624" x2="54.75" y2="626.6" stroke="#222" stroke-width="0.8"/>
<text x="54.75" y="633" font-size="5.3" text-anchor="middle" fill="#111" stroke="#111" stroke-width="0.12">15</text>
<line x1="67.23" y1="624" x2="67.23" y2="626.6" stroke="#222" stroke-width="0.8"/>
<text x="67.23" y="633" font-size="5.3" text-anchor="middle" fill="#111" stroke="#111" stroke-width="0.12">20</text>
<line x1="79.71" y1="624" x2="79.71" y2="626.6" stroke="#222" stroke-width="0.8"/>
<text x="79.71" y="633" font-size="5.3" text-anchor="middle" fill="#111" stroke="#111" stroke-width="0.12">25</text>
<text x="25.9" y="626" font-size="5.2" text-anchor="end" fill="#222">10<tspan font-size="3.8" dy="-2.4">2</tspan></text>
<text x="25.9" y="614.56" font-size="5.2" text-anchor="end" fill="#222">10<tspan font-size="3.8" dy="-2.4">3</tspan></text>
<text x="25.9" y="603.12" font-size="5.2" text-anchor="end" fill="#222">10<tspan font-size="3.8" dy="-2.4">4</tspan></text>
<text x="25.9" y="591.68" font-size="5.2" text-anchor="end" fill="#222">10<tspan font-size="3.8" dy="-2.4">5</tspan></text>
<text x="25.9" y="580.24" font-size="5.2" text-anchor="end" fill="#222">10<tspan font-size="3.8" dy="-2.4">6</tspan></text>
<text x="25.9" y="568.8" font-size="5.2" text-anchor="end" fill="#222">10<tspan font-size="3.8" dy="-2.4">7</tspan></text>
<text x="34" y="553.6" font-size="8.7" textLength="42.9" lengthAdjust="spacingAndGlyphs" fill="#000" stroke="#000" stroke-width="0.38">Increasing</text>
<text x="42.5" y="563.7" font-size="8.7" textLength="26.9" lengthAdjust="spacingAndGlyphs" fill="#000" stroke="#000" stroke-width="0.38">M+B+T</text>
<clipPath id="cb01"><rect x="97.1" y="566.8" width="57.4" height="57.2"/></clipPath>
<g clip-path="url(#cb01)">
<path d="M97.1 624 L97.1 618.51 L109.58 617.14 L126.55 612.33 L154.5 614.85 L154.5 624 Z" fill="#dcdcdc"/>
<path d="M97.1 615.99 L109.45 588.99 L127.3 580.99 L154.5 579.73 L154.5 588.99 L127.3 588.99 L109.45 595.74Z" fill="#de7e77"/>
<path d="M97.1 615.99 L109.45 595.74 L127.3 588.99 L154.5 588.99 L154.5 613.59 L127.3 611.64 L109.45 616.56 L97.1 617.25Z" fill="#0c47ec"/>
<path d="M97.1 617.71 L109.45 616.79 L127.3 611.99 L154.5 613.93" fill="none" stroke="#9fb5f5" stroke-width="0.8" stroke-dasharray="1.6 1.2"/>
</g>
<rect x="97.1" y="566.8" width="57.4" height="57.2" fill="none" stroke="#8a8a8a" stroke-width="1"/>
<line x1="97.1" y1="624.2" x2="154.5" y2="624.2" stroke="#222" stroke-width="1.1"/>
<text x="103.5" y="578.6" font-size="8.6" fill="#000" stroke="#000" stroke-width="0.38">n = 8</text>
<line x1="99.6" y1="624" x2="99.6" y2="626.6" stroke="#222" stroke-width="0.8"/>
<text x="99.6" y="633" font-size="5.3" text-anchor="middle" fill="#111" stroke="#111" stroke-width="0.12">5</text>
<line x1="112.07" y1="624" x2="112.07" y2="626.6" stroke="#222" stroke-width="0.8"/>
<text x="112.07" y="633" font-size="5.3" text-anchor="middle" fill="#111" stroke="#111" stroke-width="0.12">10</text>
<line x1="124.55" y1="624" x2="124.55" y2="626.6" stroke="#222" stroke-width="0.8"/>
<text x="124.55" y="633" font-size="5.3" text-anchor="middle" fill="#111" stroke="#111" stroke-width="0.12">15</text>
<line x1="137.03" y1="624" x2="137.03" y2="626.6" stroke="#222" stroke-width="0.8"/>
<text x="137.03" y="633" font-size="5.3" text-anchor="middle" fill="#111" stroke="#111" stroke-width="0.12">20</text>
<line x1="149.51" y1="624" x2="149.51" y2="626.6" stroke="#222" stroke-width="0.8"/>
<text x="149.51" y="633" font-size="5.3" text-anchor="middle" fill="#111" stroke="#111" stroke-width="0.12">25</text>
<text x="95.7" y="626" font-size="5.2" text-anchor="end" fill="#222">10<tspan font-size="3.8" dy="-2.4">2</tspan></text>
<text x="95.7" y="614.56" font-size="5.2" text-anchor="end" fill="#222">10<tspan font-size="3.8" dy="-2.4">3</tspan></text>
<text x="95.7" y="603.12" font-size="5.2" text-anchor="end" fill="#222">10<tspan font-size="3.8" dy="-2.4">4</tspan></text>
<text x="95.7" y="591.68" font-size="5.2" text-anchor="end" fill="#222">10<tspan font-size="3.8" dy="-2.4">5</tspan></text>
<text x="95.7" y="580.24" font-size="5.2" text-anchor="end" fill="#222">10<tspan font-size="3.8" dy="-2.4">6</tspan></text>
<text x="95.7" y="568.8" font-size="5.2" text-anchor="end" fill="#222">10<tspan font-size="3.8" dy="-2.4">7</tspan></text>
<text x="105" y="553.6" font-size="8.7" textLength="42.3" lengthAdjust="spacingAndGlyphs" fill="#000" stroke="#000" stroke-width="0.38">Persistent</text>
<text x="116.5" y="563.7" font-size="8.7" textLength="18.3" lengthAdjust="spacingAndGlyphs" fill="#000" stroke="#000" stroke-width="0.38">M+B</text>
<clipPath id="cb02"><rect x="167.8" y="566.8" width="57.4" height="57.2"/></clipPath>
<g clip-path="url(#cb02)">
<path d="M167.8 624 L167.8 617.48 L180.28 621.71 L197.25 615.65 L225.2 612.22 L225.2 624 Z" fill="#dcdcdc"/>
<path d="M180.03 622.17 L197.75 593.11 L225.2 606.73 L225.2 611.64 L197.25 615.65Z" fill="#de7e77"/>
<path d="M180.03 621.14 L197.75 592.2 L225.2 589.79 L225.2 606.73 L197.75 593.11 L180.03 622.17Z" fill="#0c47ec"/>
<path d="M167.8 613.93 L180.03 613.93" fill="none" stroke="#e8e0a0" stroke-width="0.8" stroke-dasharray="1.6 1.2"/>
<path d="M167.8 617.14 L174.04 619.42 L180.03 620.57" fill="none" stroke="#8090e0" stroke-width="0.8" stroke-dasharray="1.6 1.2"/>
</g>
<rect x="167.8" y="566.8" width="57.4" height="57.2" fill="none" stroke="#8a8a8a" stroke-width="1"/>
<line x1="167.8" y1="624.2" x2="225.2" y2="624.2" stroke="#222" stroke-width="1.1"/>
<text x="174.2" y="578.6" font-size="8.6" fill="#000" stroke="#000" stroke-width="0.38">n = 6</text>
<line x1="170.3" y1="624" x2="170.3" y2="626.6" stroke="#222" stroke-width="0.8"/>
<text x="170.3" y="633" font-size="5.3" text-anchor="middle" fill="#111" stroke="#111" stroke-width="0.12">5</text>
<line x1="182.77" y1="624" x2="182.77" y2="626.6" stroke="#222" stroke-width="0.8"/>
<text x="182.77" y="633" font-size="5.3" text-anchor="middle" fill="#111" stroke="#111" stroke-width="0.12">10</text>
<line x1="195.25" y1="624" x2="195.25" y2="626.6" stroke="#222" stroke-width="0.8"/>
<text x="195.25" y="633" font-size="5.3" text-anchor="middle" fill="#111" stroke="#111" stroke-width="0.12">15</text>
<line x1="207.73" y1="624" x2="207.73" y2="626.6" stroke="#222" stroke-width="0.8"/>
<text x="207.73" y="633" font-size="5.3" text-anchor="middle" fill="#111" stroke="#111" stroke-width="0.12">20</text>
<line x1="220.21" y1="624" x2="220.21" y2="626.6" stroke="#222" stroke-width="0.8"/>
<text x="220.21" y="633" font-size="5.3" text-anchor="middle" fill="#111" stroke="#111" stroke-width="0.12">25</text>
<text x="166.4" y="626" font-size="5.2" text-anchor="end" fill="#222">10<tspan font-size="3.8" dy="-2.4">2</tspan></text>
<text x="166.4" y="614.56" font-size="5.2" text-anchor="end" fill="#222">10<tspan font-size="3.8" dy="-2.4">3</tspan></text>
<text x="166.4" y="603.12" font-size="5.2" text-anchor="end" fill="#222">10<tspan font-size="3.8" dy="-2.4">4</tspan></text>
<text x="166.4" y="591.68" font-size="5.2" text-anchor="end" fill="#222">10<tspan font-size="3.8" dy="-2.4">5</tspan></text>
<text x="166.4" y="580.24" font-size="5.2" text-anchor="end" fill="#222">10<tspan font-size="3.8" dy="-2.4">6</tspan></text>
<text x="166.4" y="568.8" font-size="5.2" text-anchor="end" fill="#222">10<tspan font-size="3.8" dy="-2.4">7</tspan></text>
<text x="168" y="553.6" font-size="8.7" textLength="56.5" lengthAdjust="spacingAndGlyphs" fill="#000" stroke="#000" stroke-width="0.38">Transient B &</text>
<text x="170.5" y="563.7" font-size="8.7" textLength="52" lengthAdjust="spacingAndGlyphs" fill="#000" stroke="#000" stroke-width="0.38">Persistent M</text>
<clipPath id="cb03"><rect x="237.4" y="566.8" width="57.4" height="57.2"/></clipPath>
<g clip-path="url(#cb03)">
<path d="M237.4 624 L237.4 618.51 L249.88 616.56 L266.85 611.64 L294.8 613.59 L294.8 624 Z" fill="#dcdcdc"/>
<path d="M249.38 615.99 L267.6 593.23 L294.8 593.23 L294.8 608.9 L267.35 609.81Z" fill="#0c47ec"/>
<path d="M267.35 609.81 L294.8 608.9 L294.8 613.59 L267.35 611.64Z" fill="#9cee4a"/>
<path d="M237.4 618.28 L249.38 616.22" fill="none" stroke="#9fb5f5" stroke-width="0.8" stroke-dasharray="1.6 1.2"/>
</g>
<rect x="237.4" y="566.8" width="57.4" height="57.2" fill="none" stroke="#8a8a8a" stroke-width="1"/>
<line x1="237.4" y1="624.2" x2="294.8" y2="624.2" stroke="#222" stroke-width="1.1"/>
<text x="242.3" y="578.6" font-size="8.6" fill="#000" stroke="#000" stroke-width="0.38">n = 3</text>
<line x1="239.9" y1="624" x2="239.9" y2="626.6" stroke="#222" stroke-width="0.8"/>
<text x="239.9" y="633" font-size="5.3" text-anchor="middle" fill="#111" stroke="#111" stroke-width="0.12">5</text>
<line x1="252.37" y1="624" x2="252.37" y2="626.6" stroke="#222" stroke-width="0.8"/>
<text x="252.37" y="633" font-size="5.3" text-anchor="middle" fill="#111" stroke="#111" stroke-width="0.12">10</text>
<line x1="264.85" y1="624" x2="264.85" y2="626.6" stroke="#222" stroke-width="0.8"/>
<text x="264.85" y="633" font-size="5.3" text-anchor="middle" fill="#111" stroke="#111" stroke-width="0.12">15</text>
<line x1="277.33" y1="624" x2="277.33" y2="626.6" stroke="#222" stroke-width="0.8"/>
<text x="277.33" y="633" font-size="5.3" text-anchor="middle" fill="#111" stroke="#111" stroke-width="0.12">20</text>
<line x1="289.81" y1="624" x2="289.81" y2="626.6" stroke="#222" stroke-width="0.8"/>
<text x="289.81" y="633" font-size="5.3" text-anchor="middle" fill="#111" stroke="#111" stroke-width="0.12">25</text>
<text x="236" y="626" font-size="5.2" text-anchor="end" fill="#222">10<tspan font-size="3.8" dy="-2.4">2</tspan></text>
<text x="236" y="614.56" font-size="5.2" text-anchor="end" fill="#222">10<tspan font-size="3.8" dy="-2.4">3</tspan></text>
<text x="236" y="603.12" font-size="5.2" text-anchor="end" fill="#222">10<tspan font-size="3.8" dy="-2.4">4</tspan></text>
<text x="236" y="591.68" font-size="5.2" text-anchor="end" fill="#222">10<tspan font-size="3.8" dy="-2.4">5</tspan></text>
<text x="236" y="580.24" font-size="5.2" text-anchor="end" fill="#222">10<tspan font-size="3.8" dy="-2.4">6</tspan></text>
<text x="236" y="568.8" font-size="5.2" text-anchor="end" fill="#222">10<tspan font-size="3.8" dy="-2.4">7</tspan></text>
<text x="245.6" y="553.6" font-size="8.7" textLength="42.3" lengthAdjust="spacingAndGlyphs" fill="#000" stroke="#000" stroke-width="0.38">Persistent</text>
<text x="262.9" y="563.7" font-size="8.7" textLength="7.7" lengthAdjust="spacingAndGlyphs" fill="#000" stroke="#000" stroke-width="0.38">M</text>
<clipPath id="cb04"><rect x="307.6" y="566.8" width="57.4" height="57.2"/></clipPath>
<g clip-path="url(#cb04)">
<path d="M307.6 624 L307.6 618.51 L320.08 617.14 L337.05 612.1 L365 614.28 L365 624 Z" fill="#dcdcdc"/>
<path d="M307.6 617.25 L337.3 577.21 L320.08 616.56Z" fill="#de7e77"/>
<path d="M320.08 616.56 L337.3 577.9 L365 598.15 L365 613.59 L337.05 612.1Z" fill="#0c47ec"/>
<path d="M337.3 577.9 L365 613.13" fill="none" stroke="#de7e77" stroke-width="0.8" stroke-dasharray="1.6 1.2"/>
</g>
<rect x="307.6" y="566.8" width="57.4" height="57.2" fill="none" stroke="#8a8a8a" stroke-width="1"/>
<line x1="307.6" y1="624.2" x2="365" y2="624.2" stroke="#222" stroke-width="1.1"/>
<text x="313.5" y="578.6" font-size="8.6" fill="#000" stroke="#000" stroke-width="0.38">n = 9</text>
<line x1="310.1" y1="624" x2="310.1" y2="626.6" stroke="#222" stroke-width="0.8"/>
<text x="310.1" y="633" font-size="5.3" text-anchor="middle" fill="#111" stroke="#111" stroke-width="0.12">5</text>
<line x1="322.57" y1="624" x2="322.57" y2="626.6" stroke="#222" stroke-width="0.8"/>
<text x="322.57" y="633" font-size="5.3" text-anchor="middle" fill="#111" stroke="#111" stroke-width="0.12">10</text>
<line x1="335.05" y1="624" x2="335.05" y2="626.6" stroke="#222" stroke-width="0.8"/>
<text x="335.05" y="633" font-size="5.3" text-anchor="middle" fill="#111" stroke="#111" stroke-width="0.12">15</text>
<line x1="347.53" y1="624" x2="347.53" y2="626.6" stroke="#222" stroke-width="0.8"/>
<text x="347.53" y="633" font-size="5.3" text-anchor="middle" fill="#111" stroke="#111" stroke-width="0.12">20</text>
<line x1="360.01" y1="624" x2="360.01" y2="626.6" stroke="#222" stroke-width="0.8"/>
<text x="360.01" y="633" font-size="5.3" text-anchor="middle" fill="#111" stroke="#111" stroke-width="0.12">25</text>
<text x="306.2" y="626" font-size="5.2" text-anchor="end" fill="#222">10<tspan font-size="3.8" dy="-2.4">2</tspan></text>
<text x="306.2" y="614.56" font-size="5.2" text-anchor="end" fill="#222">10<tspan font-size="3.8" dy="-2.4">3</tspan></text>
<text x="306.2" y="603.12" font-size="5.2" text-anchor="end" fill="#222">10<tspan font-size="3.8" dy="-2.4">4</tspan></text>
<text x="306.2" y="591.68" font-size="5.2" text-anchor="end" fill="#222">10<tspan font-size="3.8" dy="-2.4">5</tspan></text>
<text x="306.2" y="580.24" font-size="5.2" text-anchor="end" fill="#222">10<tspan font-size="3.8" dy="-2.4">6</tspan></text>
<text x="306.2" y="568.8" font-size="5.2" text-anchor="end" fill="#222">10<tspan font-size="3.8" dy="-2.4">7</tspan></text>
<text x="317.3" y="553.6" font-size="8.7" textLength="38.8" lengthAdjust="spacingAndGlyphs" fill="#000" stroke="#000" stroke-width="0.38">Transient</text>
<text x="327.3" y="563.7" font-size="8.7" textLength="17.7" lengthAdjust="spacingAndGlyphs" fill="#000" stroke="#000" stroke-width="0.38">B+M</text>
<clipPath id="cb05"><rect x="377.7" y="566.8" width="57.4" height="57.2"/></clipPath>
<g clip-path="url(#cb05)">
<path d="M377.7 624 L377.7 617.71 L390.18 616.79 L407.15 612.9 L435.1 614.62 L435.1 624 Z" fill="#dcdcdc"/>
<path d="M377.7 615.31 L390.43 586.02 L407.4 585.1 L435.1 599.29 L435.1 613.48 L407.4 611.99 L390.43 615.99 L377.7 617.14Z" fill="#de7e77"/>
</g>
<rect x="377.7" y="566.8" width="57.4" height="57.2" fill="none" stroke="#8a8a8a" stroke-width="1"/>
<line x1="377.7" y1="624.2" x2="435.1" y2="624.2" stroke="#222" stroke-width="1.1"/>
<text x="384.8" y="578.6" font-size="8.6" fill="#000" stroke="#000" stroke-width="0.38">n = 1</text>
<line x1="380.2" y1="624" x2="380.2" y2="626.6" stroke="#222" stroke-width="0.8"/>
<text x="380.2" y="633" font-size="5.3" text-anchor="middle" fill="#111" stroke="#111" stroke-width="0.12">5</text>
<line x1="392.67" y1="624" x2="392.67" y2="626.6" stroke="#222" stroke-width="0.8"/>
<text x="392.67" y="633" font-size="5.3" text-anchor="middle" fill="#111" stroke="#111" stroke-width="0.12">10</text>
<line x1="405.15" y1="624" x2="405.15" y2="626.6" stroke="#222" stroke-width="0.8"/>
<text x="405.15" y="633" font-size="5.3" text-anchor="middle" fill="#111" stroke="#111" stroke-width="0.12">15</text>
<line x1="417.63" y1="624" x2="417.63" y2="626.6" stroke="#222" stroke-width="0.8"/>
<text x="417.63" y="633" font-size="5.3" text-anchor="middle" fill="#111" stroke="#111" stroke-width="0.12">20</text>
<line x1="430.11" y1="624" x2="430.11" y2="626.6" stroke="#222" stroke-width="0.8"/>
<text x="430.11" y="633" font-size="5.3" text-anchor="middle" fill="#111" stroke="#111" stroke-width="0.12">25</text>
<text x="376.3" y="626" font-size="5.2" text-anchor="end" fill="#222">10<tspan font-size="3.8" dy="-2.4">2</tspan></text>
<text x="376.3" y="614.56" font-size="5.2" text-anchor="end" fill="#222">10<tspan font-size="3.8" dy="-2.4">3</tspan></text>
<text x="376.3" y="603.12" font-size="5.2" text-anchor="end" fill="#222">10<tspan font-size="3.8" dy="-2.4">4</tspan></text>
<text x="376.3" y="591.68" font-size="5.2" text-anchor="end" fill="#222">10<tspan font-size="3.8" dy="-2.4">5</tspan></text>
<text x="376.3" y="580.24" font-size="5.2" text-anchor="end" fill="#222">10<tspan font-size="3.8" dy="-2.4">6</tspan></text>
<text x="376.3" y="568.8" font-size="5.2" text-anchor="end" fill="#222">10<tspan font-size="3.8" dy="-2.4">7</tspan></text>
<text x="389.6" y="553.6" font-size="8.7" textLength="37.8" lengthAdjust="spacingAndGlyphs" fill="#000" stroke="#000" stroke-width="0.38">Transient</text>
<text x="404.3" y="563.7" font-size="8.7" textLength="6" lengthAdjust="spacingAndGlyphs" fill="#000" stroke="#000" stroke-width="0.38">B</text>
<clipPath id="cb10"><rect x="27.3" y="668.3" width="57.4" height="57.4"/></clipPath>
<g clip-path="url(#cb10)">
<path d="M27.3 725.7 L27.3 719.96 L39.78 717.89 L56.75 713.65 L84.7 715.94 L84.7 725.7 Z" fill="#dcdcdc"/>
<path d="M27.3 708.71 L38.03 718.58 L27.3 719.16Z" fill="#de7e77"/>
<path d="M27.3 684.6 L39.28 717.89 L27.3 708.02Z" fill="#0c47ec"/>
<path d="M57.25 713.65 L84.7 706.76 L84.7 716.29Z" fill="#0c47ec"/>
<path d="M39.28 717.89 L47.27 714.22 L57.25 710.78 L67.23 713.07 L84.7 713.65" fill="none" stroke="#ffffff" stroke-width="0.8" stroke-dasharray="1.6 1.2"/>
</g>
<rect x="27.3" y="668.3" width="57.4" height="57.4" fill="none" stroke="#8a8a8a" stroke-width="1"/>
<line x1="27.3" y1="725.9" x2="84.7" y2="725.9" stroke="#222" stroke-width="1.1"/>
<text x="32.9" y="680.1" font-size="8.6" fill="#000" stroke="#000" stroke-width="0.38">n = 1</text>
<line x1="29.8" y1="725.7" x2="29.8" y2="728.3" stroke="#222" stroke-width="0.8"/>
<text x="29.8" y="734.7" font-size="5.3" text-anchor="middle" fill="#111" stroke="#111" stroke-width="0.12">5</text>
<line x1="42.27" y1="725.7" x2="42.27" y2="728.3" stroke="#222" stroke-width="0.8"/>
<text x="42.27" y="734.7" font-size="5.3" text-anchor="middle" fill="#111" stroke="#111" stroke-width="0.12">10</text>
<line x1="54.75" y1="725.7" x2="54.75" y2="728.3" stroke="#222" stroke-width="0.8"/>
<text x="54.75" y="734.7" font-size="5.3" text-anchor="middle" fill="#111" stroke="#111" stroke-width="0.12">15</text>
<line x1="67.23" y1="725.7" x2="67.23" y2="728.3" stroke="#222" stroke-width="0.8"/>
<text x="67.23" y="734.7" font-size="5.3" text-anchor="middle" fill="#111" stroke="#111" stroke-width="0.12">20</text>
<line x1="79.71" y1="725.7" x2="79.71" y2="728.3" stroke="#222" stroke-width="0.8"/>
<text x="79.71" y="734.7" font-size="5.3" text-anchor="middle" fill="#111" stroke="#111" stroke-width="0.12">25</text>
<text x="25.9" y="727.7" font-size="5.2" text-anchor="end" fill="#222">10<tspan font-size="3.8" dy="-2.4">2</tspan></text>
<text x="25.9" y="716.22" font-size="5.2" text-anchor="end" fill="#222">10<tspan font-size="3.8" dy="-2.4">3</tspan></text>
<text x="25.9" y="704.74" font-size="5.2" text-anchor="end" fill="#222">10<tspan font-size="3.8" dy="-2.4">4</tspan></text>
<text x="25.9" y="693.26" font-size="5.2" text-anchor="end" fill="#222">10<tspan font-size="3.8" dy="-2.4">5</tspan></text>
<text x="25.9" y="681.78" font-size="5.2" text-anchor="end" fill="#222">10<tspan font-size="3.8" dy="-2.4">6</tspan></text>
<text x="25.9" y="670.3" font-size="5.2" text-anchor="end" fill="#222">10<tspan font-size="3.8" dy="-2.4">7</tspan></text>
<text x="28.5" y="655.1" font-size="8.7" textLength="51.1" lengthAdjust="spacingAndGlyphs" fill="#000" stroke="#000" stroke-width="0.38">Early M+B &</text>
<text x="40.1" y="665.2" font-size="8.7" textLength="27.4" lengthAdjust="spacingAndGlyphs" fill="#000" stroke="#000" stroke-width="0.38">Late M</text>
<clipPath id="cb11"><rect x="97.1" y="668.3" width="57.4" height="57.4"/></clipPath>
<g clip-path="url(#cb11)">
<path d="M97.1 725.7 L97.1 720.53 L109.58 719.04 L126.55 713.99 L154.5 715.94 L154.5 725.7 Z" fill="#dcdcdc"/>
<path d="M97.1 719.16 L109.45 690.11 L127.3 713.65 L109.45 718.24Z" fill="#de7e77"/>
<path d="M127.3 713.65 L154.5 704.92 L154.5 715.48Z" fill="#0c47ec"/>
</g>
<rect x="97.1" y="668.3" width="57.4" height="57.4" fill="none" stroke="#8a8a8a" stroke-width="1"/>
<line x1="97.1" y1="725.9" x2="154.5" y2="725.9" stroke="#222" stroke-width="1.1"/>
<text x="102.9" y="680.1" font-size="8.6" fill="#000" stroke="#000" stroke-width="0.38">n = 3</text>
<line x1="99.6" y1="725.7" x2="99.6" y2="728.3" stroke="#222" stroke-width="0.8"/>
<text x="99.6" y="734.7" font-size="5.3" text-anchor="middle" fill="#111" stroke="#111" stroke-width="0.12">5</text>
<line x1="112.07" y1="725.7" x2="112.07" y2="728.3" stroke="#222" stroke-width="0.8"/>
<text x="112.07" y="734.7" font-size="5.3" text-anchor="middle" fill="#111" stroke="#111" stroke-width="0.12">10</text>
<line x1="124.55" y1="725.7" x2="124.55" y2="728.3" stroke="#222" stroke-width="0.8"/>
<text x="124.55" y="734.7" font-size="5.3" text-anchor="middle" fill="#111" stroke="#111" stroke-width="0.12">15</text>
<line x1="137.03" y1="725.7" x2="137.03" y2="728.3" stroke="#222" stroke-width="0.8"/>
<text x="137.03" y="734.7" font-size="5.3" text-anchor="middle" fill="#111" stroke="#111" stroke-width="0.12">20</text>
<line x1="149.51" y1="725.7" x2="149.51" y2="728.3" stroke="#222" stroke-width="0.8"/>
<text x="149.51" y="734.7" font-size="5.3" text-anchor="middle" fill="#111" stroke="#111" stroke-width="0.12">25</text>
<text x="95.7" y="727.7" font-size="5.2" text-anchor="end" fill="#222">10<tspan font-size="3.8" dy="-2.4">2</tspan></text>
<text x="95.7" y="716.22" font-size="5.2" text-anchor="end" fill="#222">10<tspan font-size="3.8" dy="-2.4">3</tspan></text>
<text x="95.7" y="704.74" font-size="5.2" text-anchor="end" fill="#222">10<tspan font-size="3.8" dy="-2.4">4</tspan></text>
<text x="95.7" y="693.26" font-size="5.2" text-anchor="end" fill="#222">10<tspan font-size="3.8" dy="-2.4">5</tspan></text>
<text x="95.7" y="681.78" font-size="5.2" text-anchor="end" fill="#222">10<tspan font-size="3.8" dy="-2.4">6</tspan></text>
<text x="95.7" y="670.3" font-size="5.2" text-anchor="end" fill="#222">10<tspan font-size="3.8" dy="-2.4">7</tspan></text>
<text x="101.9" y="655.1" font-size="8.7" textLength="56.1" lengthAdjust="spacingAndGlyphs" fill="#000" stroke="#000" stroke-width="0.38">Transient B &</text>
<text x="116.5" y="665.2" font-size="8.7" textLength="27" lengthAdjust="spacingAndGlyphs" fill="#000" stroke="#000" stroke-width="0.38">Late M</text>
<clipPath id="cb12"><rect x="167.8" y="668.3" width="57.4" height="57.4"/></clipPath>
<g clip-path="url(#cb12)">
<path d="M167.8 725.7 L167.8 720.42 L180.28 718.81 L197.25 714.22 L225.2 715.94 L225.2 725.7 Z" fill="#dcdcdc"/>
<path d="M182.27 717.89 L197 706.76 L225.2 693.44 L225.2 706.18 L197 714.22Z" fill="#9cee4a"/>
<path d="M197 714.22 L225.2 706.18 L225.2 715.48Z" fill="#0c47ec"/>
<path d="M167.8 719.96 L182.27 717.43" fill="none" stroke="#9fb5f5" stroke-width="0.8" stroke-dasharray="1.6 1.2"/>
</g>
<rect x="167.8" y="668.3" width="57.4" height="57.4" fill="none" stroke="#8a8a8a" stroke-width="1"/>
<line x1="167.8" y1="725.9" x2="225.2" y2="725.9" stroke="#222" stroke-width="1.1"/>
<text x="172.7" y="680.1" font-size="8.6" fill="#000" stroke="#000" stroke-width="0.38">n = 3</text>
<line x1="170.3" y1="725.7" x2="170.3" y2="728.3" stroke="#222" stroke-width="0.8"/>
<text x="170.3" y="734.7" font-size="5.3" text-anchor="middle" fill="#111" stroke="#111" stroke-width="0.12">5</text>
<line x1="182.77" y1="725.7" x2="182.77" y2="728.3" stroke="#222" stroke-width="0.8"/>
<text x="182.77" y="734.7" font-size="5.3" text-anchor="middle" fill="#111" stroke="#111" stroke-width="0.12">10</text>
<line x1="195.25" y1="725.7" x2="195.25" y2="728.3" stroke="#222" stroke-width="0.8"/>
<text x="195.25" y="734.7" font-size="5.3" text-anchor="middle" fill="#111" stroke="#111" stroke-width="0.12">15</text>
<line x1="207.73" y1="725.7" x2="207.73" y2="728.3" stroke="#222" stroke-width="0.8"/>
<text x="207.73" y="734.7" font-size="5.3" text-anchor="middle" fill="#111" stroke="#111" stroke-width="0.12">20</text>
<line x1="220.21" y1="725.7" x2="220.21" y2="728.3" stroke="#222" stroke-width="0.8"/>
<text x="220.21" y="734.7" font-size="5.3" text-anchor="middle" fill="#111" stroke="#111" stroke-width="0.12">25</text>
<text x="166.4" y="727.7" font-size="5.2" text-anchor="end" fill="#222">10<tspan font-size="3.8" dy="-2.4">2</tspan></text>
<text x="166.4" y="716.22" font-size="5.2" text-anchor="end" fill="#222">10<tspan font-size="3.8" dy="-2.4">3</tspan></text>
<text x="166.4" y="704.74" font-size="5.2" text-anchor="end" fill="#222">10<tspan font-size="3.8" dy="-2.4">4</tspan></text>
<text x="166.4" y="693.26" font-size="5.2" text-anchor="end" fill="#222">10<tspan font-size="3.8" dy="-2.4">5</tspan></text>
<text x="166.4" y="681.78" font-size="5.2" text-anchor="end" fill="#222">10<tspan font-size="3.8" dy="-2.4">6</tspan></text>
<text x="166.4" y="670.3" font-size="5.2" text-anchor="end" fill="#222">10<tspan font-size="3.8" dy="-2.4">7</tspan></text>
<text x="176.3" y="664.3" font-size="8.7" textLength="37.5" lengthAdjust="spacingAndGlyphs" fill="#000" stroke="#000" stroke-width="0.38">Late M+T</text>
<clipPath id="cb13"><rect x="237.4" y="668.3" width="57.4" height="57.4"/></clipPath>
<g clip-path="url(#cb13)">
<path d="M237.4 725.7 L237.4 719.96 L249.88 722.83 L266.85 715.14 L294.8 715.94 L294.8 725.7 Z" fill="#dcdcdc"/>
<path d="M237.4 717.89 L250 707.79 L267.35 714.79 L250 723.52Z" fill="#0c47ec"/>
<path d="M267.35 714.79 L294.8 696.31 L294.8 701.82Z" fill="#de7e77"/>
<path d="M267.35 715.14 L294.8 701.82 L294.8 714.22Z" fill="#9cee4a"/>
<path d="M267.35 714.22 L294.8 713.3" fill="none" stroke="#2a8a2a" stroke-width="0.8" stroke-dasharray="1.6 1.2"/>
</g>
<rect x="237.4" y="668.3" width="57.4" height="57.4" fill="none" stroke="#8a8a8a" stroke-width="1"/>
<line x1="237.4" y1="725.9" x2="294.8" y2="725.9" stroke="#222" stroke-width="1.1"/>
<text x="244.8" y="680.1" font-size="8.6" fill="#000" stroke="#000" stroke-width="0.38">n = 2</text>
<line x1="239.9" y1="725.7" x2="239.9" y2="728.3" stroke="#222" stroke-width="0.8"/>
<text x="239.9" y="734.7" font-size="5.3" text-anchor="middle" fill="#111" stroke="#111" stroke-width="0.12">5</text>
<line x1="252.37" y1="725.7" x2="252.37" y2="728.3" stroke="#222" stroke-width="0.8"/>
<text x="252.37" y="734.7" font-size="5.3" text-anchor="middle" fill="#111" stroke="#111" stroke-width="0.12">10</text>
<line x1="264.85" y1="725.7" x2="264.85" y2="728.3" stroke="#222" stroke-width="0.8"/>
<text x="264.85" y="734.7" font-size="5.3" text-anchor="middle" fill="#111" stroke="#111" stroke-width="0.12">15</text>
<line x1="277.33" y1="725.7" x2="277.33" y2="728.3" stroke="#222" stroke-width="0.8"/>
<text x="277.33" y="734.7" font-size="5.3" text-anchor="middle" fill="#111" stroke="#111" stroke-width="0.12">20</text>
<line x1="289.81" y1="725.7" x2="289.81" y2="728.3" stroke="#222" stroke-width="0.8"/>
<text x="289.81" y="734.7" font-size="5.3" text-anchor="middle" fill="#111" stroke="#111" stroke-width="0.12">25</text>
<text x="236" y="727.7" font-size="5.2" text-anchor="end" fill="#222">10<tspan font-size="3.8" dy="-2.4">2</tspan></text>
<text x="236" y="716.22" font-size="5.2" text-anchor="end" fill="#222">10<tspan font-size="3.8" dy="-2.4">3</tspan></text>
<text x="236" y="704.74" font-size="5.2" text-anchor="end" fill="#222">10<tspan font-size="3.8" dy="-2.4">4</tspan></text>
<text x="236" y="693.26" font-size="5.2" text-anchor="end" fill="#222">10<tspan font-size="3.8" dy="-2.4">5</tspan></text>
<text x="236" y="681.78" font-size="5.2" text-anchor="end" fill="#222">10<tspan font-size="3.8" dy="-2.4">6</tspan></text>
<text x="236" y="670.3" font-size="5.2" text-anchor="end" fill="#222">10<tspan font-size="3.8" dy="-2.4">7</tspan></text>
<text x="247.5" y="664.3" font-size="8.7" textLength="37.5" lengthAdjust="spacingAndGlyphs" fill="#000" stroke="#000" stroke-width="0.38">Late B+T</text>
<clipPath id="cb14"><rect x="307.6" y="668.3" width="57.4" height="57.4"/></clipPath>
<g clip-path="url(#cb14)">
<path d="M307.6 725.7 L307.6 720.53 L320.08 718.24 L337.05 713.99 L365 715.94 L365 725.7 Z" fill="#dcdcdc"/>
<path d="M337.55 713.99 L365 703.43 L365 715.48Z" fill="#0c47ec"/>
<path d="M307.6 719.96 L337.55 713.07" fill="none" stroke="#9fb5f5" stroke-width="0.8" stroke-dasharray="1.6 1.2"/>
</g>
<rect x="307.6" y="668.3" width="57.4" height="57.4" fill="none" stroke="#8a8a8a" stroke-width="1"/>
<line x1="307.6" y1="725.9" x2="365" y2="725.9" stroke="#222" stroke-width="1.1"/>
<text x="312.9" y="680.1" font-size="8.6" fill="#000" stroke="#000" stroke-width="0.38">n = 5</text>
<line x1="310.1" y1="725.7" x2="310.1" y2="728.3" stroke="#222" stroke-width="0.8"/>
<text x="310.1" y="734.7" font-size="5.3" text-anchor="middle" fill="#111" stroke="#111" stroke-width="0.12">5</text>
<line x1="322.57" y1="725.7" x2="322.57" y2="728.3" stroke="#222" stroke-width="0.8"/>
<text x="322.57" y="734.7" font-size="5.3" text-anchor="middle" fill="#111" stroke="#111" stroke-width="0.12">10</text>
<line x1="335.05" y1="725.7" x2="335.05" y2="728.3" stroke="#222" stroke-width="0.8"/>
<text x="335.05" y="734.7" font-size="5.3" text-anchor="middle" fill="#111" stroke="#111" stroke-width="0.12">15</text>
<line x1="347.53" y1="725.7" x2="347.53" y2="728.3" stroke="#222" stroke-width="0.8"/>
<text x="347.53" y="734.7" font-size="5.3" text-anchor="middle" fill="#111" stroke="#111" stroke-width="0.12">20</text>
<line x1="360.01" y1="725.7" x2="360.01" y2="728.3" stroke="#222" stroke-width="0.8"/>
<text x="360.01" y="734.7" font-size="5.3" text-anchor="middle" fill="#111" stroke="#111" stroke-width="0.12">25</text>
<text x="306.2" y="727.7" font-size="5.2" text-anchor="end" fill="#222">10<tspan font-size="3.8" dy="-2.4">2</tspan></text>
<text x="306.2" y="716.22" font-size="5.2" text-anchor="end" fill="#222">10<tspan font-size="3.8" dy="-2.4">3</tspan></text>
<text x="306.2" y="704.74" font-size="5.2" text-anchor="end" fill="#222">10<tspan font-size="3.8" dy="-2.4">4</tspan></text>
<text x="306.2" y="693.26" font-size="5.2" text-anchor="end" fill="#222">10<tspan font-size="3.8" dy="-2.4">5</tspan></text>
<text x="306.2" y="681.78" font-size="5.2" text-anchor="end" fill="#222">10<tspan font-size="3.8" dy="-2.4">6</tspan></text>
<text x="306.2" y="670.3" font-size="5.2" text-anchor="end" fill="#222">10<tspan font-size="3.8" dy="-2.4">7</tspan></text>
<text x="323.8" y="664.3" font-size="8.7" textLength="26.7" lengthAdjust="spacingAndGlyphs" fill="#000" stroke="#000" stroke-width="0.38">Late M</text>
<clipPath id="cb15"><rect x="377.7" y="668.3" width="57.4" height="57.4"/></clipPath>
<g clip-path="url(#cb15)">
<path d="M377.7 725.7 L377.7 722.26 L390.18 724.55 L407.15 715.14 L435.1 718.24 L435.1 725.7 Z" fill="#dcdcdc"/>
<path d="M377.7 717.43 L390.18 720.53 L407.15 713.99 L407.15 725.7 L377.7 725.7Z" fill="#e6e6f4"/>
<path d="M377.7 722.26 L390.18 724.55 L407.15 715.14 L435.1 718.24 L435.1 725.7 L377.7 725.7Z" fill="#dcdcdc"/>
<path d="M407.15 713.99 L435.1 703.89 L435.1 714.79Z" fill="#de7e77"/>
<path d="M407.15 714.79 L435.1 714.79 L435.1 717.43 L407.15 715.94Z" fill="#c8e6a8"/>
<path d="M377.7 717.43 L390.18 720.53 L407.15 713.99 L435.1 712.5" fill="none" stroke="#6a7ae0" stroke-width="0.8" stroke-dasharray="1.6 1.2"/>
<path d="M377.7 715.37 L407.15 715.37" fill="none" stroke="#d8dc90" stroke-width="0.8" stroke-dasharray="1.6 1.2"/>
</g>
<rect x="377.7" y="668.3" width="57.4" height="57.4" fill="none" stroke="#8a8a8a" stroke-width="1"/>
<line x1="377.7" y1="725.9" x2="435.1" y2="725.9" stroke="#222" stroke-width="1.1"/>
<text x="383.5" y="680.1" font-size="8.6" fill="#000" stroke="#000" stroke-width="0.38">n = 1</text>
<line x1="380.2" y1="725.7" x2="380.2" y2="728.3" stroke="#222" stroke-width="0.8"/>
<text x="380.2" y="734.7" font-size="5.3" text-anchor="middle" fill="#111" stroke="#111" stroke-width="0.12">5</text>
<line x1="392.67" y1="725.7" x2="392.67" y2="728.3" stroke="#222" stroke-width="0.8"/>
<text x="392.67" y="734.7" font-size="5.3" text-anchor="middle" fill="#111" stroke="#111" stroke-width="0.12">10</text>
<line x1="405.15" y1="725.7" x2="405.15" y2="728.3" stroke="#222" stroke-width="0.8"/>
<text x="405.15" y="734.7" font-size="5.3" text-anchor="middle" fill="#111" stroke="#111" stroke-width="0.12">15</text>
<line x1="417.63" y1="725.7" x2="417.63" y2="728.3" stroke="#222" stroke-width="0.8"/>
<text x="417.63" y="734.7" font-size="5.3" text-anchor="middle" fill="#111" stroke="#111" stroke-width="0.12">20</text>
<line x1="430.11" y1="725.7" x2="430.11" y2="728.3" stroke="#222" stroke-width="0.8"/>
<text x="430.11" y="734.7" font-size="5.3" text-anchor="middle" fill="#111" stroke="#111" stroke-width="0.12">25</text>
<text x="376.3" y="727.7" font-size="5.2" text-anchor="end" fill="#222">10<tspan font-size="3.8" dy="-2.4">2</tspan></text>
<text x="376.3" y="716.22" font-size="5.2" text-anchor="end" fill="#222">10<tspan font-size="3.8" dy="-2.4">3</tspan></text>
<text x="376.3" y="704.74" font-size="5.2" text-anchor="end" fill="#222">10<tspan font-size="3.8" dy="-2.4">4</tspan></text>
<text x="376.3" y="693.26" font-size="5.2" text-anchor="end" fill="#222">10<tspan font-size="3.8" dy="-2.4">5</tspan></text>
<text x="376.3" y="681.78" font-size="5.2" text-anchor="end" fill="#222">10<tspan font-size="3.8" dy="-2.4">6</tspan></text>
<text x="376.3" y="670.3" font-size="5.2" text-anchor="end" fill="#222">10<tspan font-size="3.8" dy="-2.4">7</tspan></text>
<text x="391.7" y="664.3" font-size="8.7" textLength="26.8" lengthAdjust="spacingAndGlyphs" fill="#000" stroke="#000" stroke-width="0.38">Late B</text>
<clipPath id="cb16"><rect x="449.3" y="668.3" width="57.4" height="57.4"/></clipPath>
<g clip-path="url(#cb16)">
<path d="M449.3 725.7 L449.3 723.4 L461.78 724.55 L478.75 717.89 L506.7 715.94 L506.7 725.7 Z" fill="#dcdcdc"/>
<path d="M449.3 717.43 L463.03 719.96 L479.25 713.07 L479.25 725.7 L449.3 725.7Z" fill="#e6e6f4"/>
<path d="M449.3 722.26 L463.03 723.98 L479.25 717.89 L506.7 715.94 L506.7 725.7 L449.3 725.7Z" fill="#dcdcdc"/>
<path d="M479.25 717.89 L506.7 700.56 L506.7 715.48Z" fill="#9cee4a"/>
<path d="M449.3 717.43 L463.03 719.96 L479.25 713.07 L506.7 712.5" fill="none" stroke="#6a7ae0" stroke-width="0.8" stroke-dasharray="1.6 1.2"/>
<path d="M449.3 715.37 L463.03 715.37" fill="none" stroke="#d8dc90" stroke-width="0.8" stroke-dasharray="1.6 1.2"/>
<path d="M484.24 712.5 L506.7 712.5" fill="none" stroke="#1f7a1f" stroke-width="0.8" stroke-dasharray="1.6 1.2"/>
</g>
<rect x="449.3" y="668.3" width="57.4" height="57.4" fill="none" stroke="#8a8a8a" stroke-width="1"/>
<line x1="449.3" y1="725.9" x2="506.7" y2="725.9" stroke="#222" stroke-width="1.1"/>
<text x="453.3" y="680.1" font-size="8.6" fill="#000" stroke="#000" stroke-width="0.38">n = 4</text>
<line x1="451.8" y1="725.7" x2="451.8" y2="728.3" stroke="#222" stroke-width="0.8"/>
<text x="451.8" y="734.7" font-size="5.3" text-anchor="middle" fill="#111" stroke="#111" stroke-width="0.12">5</text>
<line x1="464.27" y1="725.7" x2="464.27" y2="728.3" stroke="#222" stroke-width="0.8"/>
<text x="464.27" y="734.7" font-size="5.3" text-anchor="middle" fill="#111" stroke="#111" stroke-width="0.12">10</text>
<line x1="476.75" y1="725.7" x2="476.75" y2="728.3" stroke="#222" stroke-width="0.8"/>
<text x="476.75" y="734.7" font-size="5.3" text-anchor="middle" fill="#111" stroke="#111" stroke-width="0.12">15</text>
<line x1="489.23" y1="725.7" x2="489.23" y2="728.3" stroke="#222" stroke-width="0.8"/>
<text x="489.23" y="734.7" font-size="5.3" text-anchor="middle" fill="#111" stroke="#111" stroke-width="0.12">20</text>
<line x1="501.71" y1="725.7" x2="501.71" y2="728.3" stroke="#222" stroke-width="0.8"/>
<text x="501.71" y="734.7" font-size="5.3" text-anchor="middle" fill="#111" stroke="#111" stroke-width="0.12">25</text>
<text x="447.9" y="727.7" font-size="5.2" text-anchor="end" fill="#222">10<tspan font-size="3.8" dy="-2.4">2</tspan></text>
<text x="447.9" y="716.22" font-size="5.2" text-anchor="end" fill="#222">10<tspan font-size="3.8" dy="-2.4">3</tspan></text>
<text x="447.9" y="704.74" font-size="5.2" text-anchor="end" fill="#222">10<tspan font-size="3.8" dy="-2.4">4</tspan></text>
<text x="447.9" y="693.26" font-size="5.2" text-anchor="end" fill="#222">10<tspan font-size="3.8" dy="-2.4">5</tspan></text>
<text x="447.9" y="681.78" font-size="5.2" text-anchor="end" fill="#222">10<tspan font-size="3.8" dy="-2.4">6</tspan></text>
<text x="447.9" y="670.3" font-size="5.2" text-anchor="end" fill="#222">10<tspan font-size="3.8" dy="-2.4">7</tspan></text>
<text x="464.6" y="664.3" font-size="8.7" textLength="26.2" lengthAdjust="spacingAndGlyphs" fill="#000" stroke="#000" stroke-width="0.38">Late T</text>
<path d="M456.2 566.5 V620.4 H510.6" fill="none" stroke="#000" stroke-width="2"/>
<text transform="translate(450.6 591.6) rotate(-90)" font-size="9" stroke="#000" stroke-width="0.38" text-anchor="middle" textLength="52" lengthAdjust="spacingAndGlyphs">Cell number</text>
<rect x="468.2" y="567.6" width="13.8" height="10.4" rx="1.5" fill="#0c47ec" stroke="#1030a0" stroke-width="1"/>
<text x="484" y="574.9" font-size="9.2" textLength="34" lengthAdjust="spacingAndGlyphs" fill="#000" stroke="#000" stroke-width="0.38">Myeloid</text>
<rect x="468.2" y="579.4" width="13.8" height="10.4" rx="1.5" fill="#de7e77" stroke="#b05a55" stroke-width="1"/>
<text x="484" y="586.7" font-size="9.2" textLength="29.8" lengthAdjust="spacingAndGlyphs" fill="#000" stroke="#000" stroke-width="0.38">B cells</text>
<rect x="468.2" y="591.2" width="13.8" height="10.4" rx="1.5" fill="#9cee4a" stroke="#5a9a30" stroke-width="1"/>
<text x="484" y="598.5" font-size="9.2" textLength="28.9" lengthAdjust="spacingAndGlyphs" fill="#000" stroke="#000" stroke-width="0.38">T cells</text>
<text x="471.5" y="631.5" font-size="9.4" textLength="29.3" lengthAdjust="spacingAndGlyphs" fill="#000" stroke="#000" stroke-width="0.38">Weeks</text>
<text x="454.2" y="642" font-size="9.4" textLength="63.8" lengthAdjust="spacingAndGlyphs" fill="#000" stroke="#000" stroke-width="0.38">posttransplant</text>
</svg>
</body></html>
